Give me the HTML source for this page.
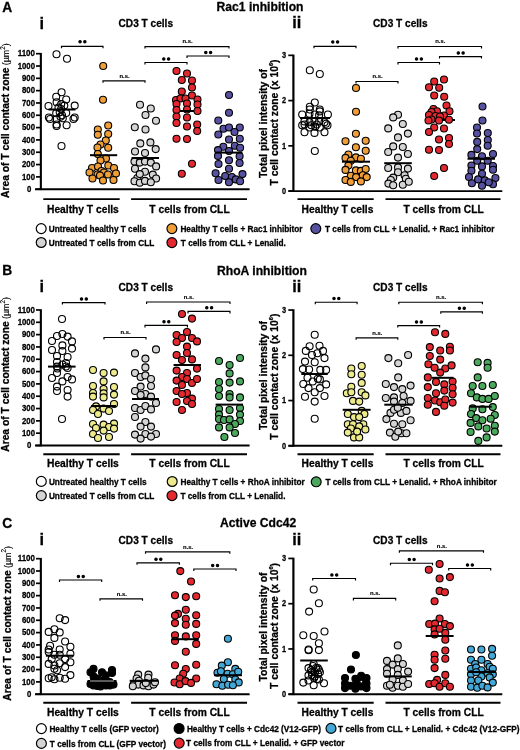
<!DOCTYPE html>
<html><head><meta charset="utf-8"><style>
html,body{margin:0;padding:0;background:#fff;}
svg{display:block;font-family:"Liberation Sans",sans-serif;filter:blur(0.3px);}
svg text{fill:#000;stroke:#000;stroke-width:0.28px;}
line,path{stroke:#000;}
circle{stroke:#000;stroke-width:1.1;}
</style></head><body>
<svg width="520" height="750" viewBox="0 0 520 750">
<rect width="520" height="750" fill="#fff"/>
<text x="2.20" y="11.90" font-size="13.8" text-anchor="start" font-weight="bold" >A</text>
<text x="216.50" y="10.70" font-size="12.15" text-anchor="start" font-weight="bold" >Rac1 inhibition</text>
<text x="39.60" y="28.80" font-size="16.3" text-anchor="start" font-weight="bold" >i</text>
<text x="145.80" y="27.40" font-size="10.1" text-anchor="middle" font-weight="bold" >CD3 T cells</text>
<text x="292.20" y="28.00" font-size="16.3" text-anchor="start" font-weight="bold" >ii</text>
<text x="400.30" y="27.40" font-size="10.1" text-anchor="middle" font-weight="bold" >CD3 T cells</text>
<line x1="40.85" y1="52.88" x2="40.85" y2="190.10" stroke-width="2.1"/>
<line x1="35.00" y1="189.20" x2="249.60" y2="189.20" stroke-width="1.9"/>
<line x1="36.00" y1="189.20" x2="40.00" y2="189.20" stroke-width="1.7"/>
<text x="31.30" y="191.95" font-size="8.5" text-anchor="end" font-weight="bold" textLength="4.33" lengthAdjust="spacingAndGlyphs">0</text>
<line x1="36.00" y1="176.88" x2="40.00" y2="176.88" stroke-width="1.7"/>
<text x="35.00" y="179.63" font-size="8.5" text-anchor="end" font-weight="bold" textLength="12.99" lengthAdjust="spacingAndGlyphs">100</text>
<line x1="36.00" y1="164.56" x2="40.00" y2="164.56" stroke-width="1.7"/>
<text x="35.00" y="167.31" font-size="8.5" text-anchor="end" font-weight="bold" textLength="12.99" lengthAdjust="spacingAndGlyphs">200</text>
<line x1="36.00" y1="152.24" x2="40.00" y2="152.24" stroke-width="1.7"/>
<text x="35.00" y="154.99" font-size="8.5" text-anchor="end" font-weight="bold" textLength="12.99" lengthAdjust="spacingAndGlyphs">300</text>
<line x1="36.00" y1="139.92" x2="40.00" y2="139.92" stroke-width="1.7"/>
<text x="35.00" y="142.67" font-size="8.5" text-anchor="end" font-weight="bold" textLength="12.99" lengthAdjust="spacingAndGlyphs">400</text>
<line x1="36.00" y1="127.60" x2="40.00" y2="127.60" stroke-width="1.7"/>
<text x="35.00" y="130.35" font-size="8.5" text-anchor="end" font-weight="bold" textLength="12.99" lengthAdjust="spacingAndGlyphs">500</text>
<line x1="36.00" y1="115.28" x2="40.00" y2="115.28" stroke-width="1.7"/>
<text x="35.00" y="118.03" font-size="8.5" text-anchor="end" font-weight="bold" textLength="12.99" lengthAdjust="spacingAndGlyphs">600</text>
<line x1="36.00" y1="102.96" x2="40.00" y2="102.96" stroke-width="1.7"/>
<text x="35.00" y="105.71" font-size="8.5" text-anchor="end" font-weight="bold" textLength="12.99" lengthAdjust="spacingAndGlyphs">700</text>
<line x1="36.00" y1="90.64" x2="40.00" y2="90.64" stroke-width="1.7"/>
<text x="35.00" y="93.39" font-size="8.5" text-anchor="end" font-weight="bold" textLength="12.99" lengthAdjust="spacingAndGlyphs">800</text>
<line x1="36.00" y1="78.32" x2="40.00" y2="78.32" stroke-width="1.7"/>
<text x="35.00" y="81.07" font-size="8.5" text-anchor="end" font-weight="bold" textLength="12.99" lengthAdjust="spacingAndGlyphs">900</text>
<line x1="36.00" y1="66.00" x2="40.00" y2="66.00" stroke-width="1.7"/>
<text x="35.00" y="68.75" font-size="8.5" text-anchor="end" font-weight="bold" textLength="17.32" lengthAdjust="spacingAndGlyphs">1000</text>
<line x1="36.00" y1="53.68" x2="40.00" y2="53.68" stroke-width="1.7"/>
<text x="35.00" y="56.43" font-size="8.5" text-anchor="end" font-weight="bold" textLength="17.32" lengthAdjust="spacingAndGlyphs">1100</text>
<line x1="293.40" y1="54.55" x2="293.40" y2="192.00" stroke-width="2.2"/>
<line x1="288.50" y1="191.10" x2="502.30" y2="191.10" stroke-width="1.9"/>
<line x1="288.30" y1="191.10" x2="293.00" y2="191.10" stroke-width="1.7"/>
<text x="286.20" y="193.85" font-size="8.5" text-anchor="end" font-weight="bold" textLength="4.10" lengthAdjust="spacingAndGlyphs">0</text>
<line x1="288.30" y1="145.85" x2="293.00" y2="145.85" stroke-width="1.7"/>
<text x="286.20" y="148.60" font-size="8.5" text-anchor="end" font-weight="bold" textLength="4.10" lengthAdjust="spacingAndGlyphs">1</text>
<line x1="288.30" y1="100.60" x2="293.00" y2="100.60" stroke-width="1.7"/>
<text x="286.20" y="103.35" font-size="8.5" text-anchor="end" font-weight="bold" textLength="4.10" lengthAdjust="spacingAndGlyphs">2</text>
<line x1="288.30" y1="55.35" x2="293.00" y2="55.35" stroke-width="1.7"/>
<text x="286.20" y="58.10" font-size="8.5" text-anchor="end" font-weight="bold" textLength="4.10" lengthAdjust="spacingAndGlyphs">3</text>
<line x1="43.30" y1="199.10" x2="119.70" y2="199.10" stroke-width="1.9"/>
<line x1="131.10" y1="199.10" x2="247.00" y2="199.10" stroke-width="1.9"/>
<text x="82.90" y="212.50" font-size="10.25" text-anchor="middle" font-weight="bold" >Healthy T cells</text>
<text x="189.50" y="212.50" font-size="10.25" text-anchor="middle" font-weight="bold" >T cells from CLL</text>
<line x1="297.50" y1="199.10" x2="373.70" y2="199.10" stroke-width="1.9"/>
<line x1="385.50" y1="199.10" x2="500.50" y2="199.10" stroke-width="1.9"/>
<text x="337.50" y="212.50" font-size="10.25" text-anchor="middle" font-weight="bold" >Healthy T cells</text>
<text x="443.60" y="212.50" font-size="10.25" text-anchor="middle" font-weight="bold" >T cells from CLL</text>
<text transform="translate(9.3,198.00) rotate(-90)" font-size="10.3" font-weight="bold">Area of T cell contact zone</text><text transform="translate(9.3,65.20) rotate(-90)" font-size="8.9" style="stroke-width:0.12px">(µm<tspan dy="-4.3" font-size="6.4">2</tspan><tspan dy="4.3">)</tspan></text>
<text transform="translate(266.5,123.50) rotate(-90)" font-size="10.4" text-anchor="middle" font-weight="bold">Total pixel intensity of</text>
<text transform="translate(278.3,122.50) rotate(-90)" font-size="10.4" text-anchor="middle" font-weight="bold">T cell contact zone (x 10<tspan dy="-5" font-size="5.6">6</tspan><tspan dy="5">)</tspan></text>
<text x="2.20" y="275.00" font-size="13.8" text-anchor="start" font-weight="bold" >B</text>
<text x="217.00" y="274.50" font-size="12.15" text-anchor="start" font-weight="bold" >RhoA inhibition</text>
<text x="39.60" y="291.50" font-size="16.3" text-anchor="start" font-weight="bold" >i</text>
<text x="145.80" y="291.30" font-size="10.1" text-anchor="middle" font-weight="bold" >CD3 T cells</text>
<text x="292.20" y="292.30" font-size="16.3" text-anchor="start" font-weight="bold" >ii</text>
<text x="400.30" y="291.30" font-size="10.1" text-anchor="middle" font-weight="bold" >CD3 T cells</text>
<line x1="40.85" y1="309.18" x2="40.85" y2="446.40" stroke-width="2.1"/>
<line x1="35.00" y1="445.50" x2="249.60" y2="445.50" stroke-width="1.9"/>
<line x1="36.00" y1="445.50" x2="40.00" y2="445.50" stroke-width="1.7"/>
<text x="31.30" y="448.25" font-size="8.5" text-anchor="end" font-weight="bold" textLength="4.33" lengthAdjust="spacingAndGlyphs">0</text>
<line x1="36.00" y1="433.18" x2="40.00" y2="433.18" stroke-width="1.7"/>
<text x="35.00" y="435.93" font-size="8.5" text-anchor="end" font-weight="bold" textLength="12.99" lengthAdjust="spacingAndGlyphs">100</text>
<line x1="36.00" y1="420.86" x2="40.00" y2="420.86" stroke-width="1.7"/>
<text x="35.00" y="423.61" font-size="8.5" text-anchor="end" font-weight="bold" textLength="12.99" lengthAdjust="spacingAndGlyphs">200</text>
<line x1="36.00" y1="408.54" x2="40.00" y2="408.54" stroke-width="1.7"/>
<text x="35.00" y="411.29" font-size="8.5" text-anchor="end" font-weight="bold" textLength="12.99" lengthAdjust="spacingAndGlyphs">300</text>
<line x1="36.00" y1="396.22" x2="40.00" y2="396.22" stroke-width="1.7"/>
<text x="35.00" y="398.97" font-size="8.5" text-anchor="end" font-weight="bold" textLength="12.99" lengthAdjust="spacingAndGlyphs">400</text>
<line x1="36.00" y1="383.90" x2="40.00" y2="383.90" stroke-width="1.7"/>
<text x="35.00" y="386.65" font-size="8.5" text-anchor="end" font-weight="bold" textLength="12.99" lengthAdjust="spacingAndGlyphs">500</text>
<line x1="36.00" y1="371.58" x2="40.00" y2="371.58" stroke-width="1.7"/>
<text x="35.00" y="374.33" font-size="8.5" text-anchor="end" font-weight="bold" textLength="12.99" lengthAdjust="spacingAndGlyphs">600</text>
<line x1="36.00" y1="359.26" x2="40.00" y2="359.26" stroke-width="1.7"/>
<text x="35.00" y="362.01" font-size="8.5" text-anchor="end" font-weight="bold" textLength="12.99" lengthAdjust="spacingAndGlyphs">700</text>
<line x1="36.00" y1="346.94" x2="40.00" y2="346.94" stroke-width="1.7"/>
<text x="35.00" y="349.69" font-size="8.5" text-anchor="end" font-weight="bold" textLength="12.99" lengthAdjust="spacingAndGlyphs">800</text>
<line x1="36.00" y1="334.62" x2="40.00" y2="334.62" stroke-width="1.7"/>
<text x="35.00" y="337.37" font-size="8.5" text-anchor="end" font-weight="bold" textLength="12.99" lengthAdjust="spacingAndGlyphs">900</text>
<line x1="36.00" y1="322.30" x2="40.00" y2="322.30" stroke-width="1.7"/>
<text x="35.00" y="325.05" font-size="8.5" text-anchor="end" font-weight="bold" textLength="17.32" lengthAdjust="spacingAndGlyphs">1000</text>
<line x1="36.00" y1="309.98" x2="40.00" y2="309.98" stroke-width="1.7"/>
<text x="35.00" y="312.73" font-size="8.5" text-anchor="end" font-weight="bold" textLength="17.32" lengthAdjust="spacingAndGlyphs">1100</text>
<line x1="293.40" y1="309.25" x2="293.40" y2="446.70" stroke-width="2.2"/>
<line x1="288.50" y1="445.80" x2="502.30" y2="445.80" stroke-width="1.9"/>
<line x1="288.30" y1="445.80" x2="293.00" y2="445.80" stroke-width="1.7"/>
<text x="286.20" y="448.55" font-size="8.5" text-anchor="end" font-weight="bold" textLength="4.10" lengthAdjust="spacingAndGlyphs">0</text>
<line x1="288.30" y1="400.55" x2="293.00" y2="400.55" stroke-width="1.7"/>
<text x="286.20" y="403.30" font-size="8.5" text-anchor="end" font-weight="bold" textLength="4.10" lengthAdjust="spacingAndGlyphs">1</text>
<line x1="288.30" y1="355.30" x2="293.00" y2="355.30" stroke-width="1.7"/>
<text x="286.20" y="358.05" font-size="8.5" text-anchor="end" font-weight="bold" textLength="4.10" lengthAdjust="spacingAndGlyphs">2</text>
<line x1="288.30" y1="310.05" x2="293.00" y2="310.05" stroke-width="1.7"/>
<text x="286.20" y="312.80" font-size="8.5" text-anchor="end" font-weight="bold" textLength="4.10" lengthAdjust="spacingAndGlyphs">3</text>
<line x1="43.30" y1="454.25" x2="119.70" y2="454.25" stroke-width="1.9"/>
<line x1="131.10" y1="454.25" x2="247.00" y2="454.25" stroke-width="1.9"/>
<text x="82.90" y="467.00" font-size="10.25" text-anchor="middle" font-weight="bold" >Healthy T cells</text>
<text x="189.50" y="467.00" font-size="10.25" text-anchor="middle" font-weight="bold" >T cells from CLL</text>
<line x1="297.50" y1="454.25" x2="373.70" y2="454.25" stroke-width="1.9"/>
<line x1="385.50" y1="454.25" x2="500.50" y2="454.25" stroke-width="1.9"/>
<text x="337.50" y="467.00" font-size="10.25" text-anchor="middle" font-weight="bold" >Healthy T cells</text>
<text x="443.60" y="467.00" font-size="10.25" text-anchor="middle" font-weight="bold" >T cells from CLL</text>
<text transform="translate(9.3,451.80) rotate(-90)" font-size="10.3" font-weight="bold">Area of T cell contact zone</text><text transform="translate(9.3,319.00) rotate(-90)" font-size="8.9" style="stroke-width:0.12px">(µm<tspan dy="-4.3" font-size="6.4">2</tspan><tspan dy="4.3">)</tspan></text>
<text transform="translate(266.5,375.50) rotate(-90)" font-size="10.4" text-anchor="middle" font-weight="bold">Total pixel intensity of</text>
<text transform="translate(278.3,376.70) rotate(-90)" font-size="10.4" text-anchor="middle" font-weight="bold">T cell contact zone (x 10<tspan dy="-5" font-size="5.6">6</tspan><tspan dy="5">)</tspan></text>
<text x="2.20" y="527.50" font-size="13.8" text-anchor="start" font-weight="bold" >C</text>
<text x="220.00" y="526.80" font-size="12.15" text-anchor="start" font-weight="bold" >Active Cdc42</text>
<text x="39.60" y="544.60" font-size="16.3" text-anchor="start" font-weight="bold" >i</text>
<text x="145.80" y="543.70" font-size="10.1" text-anchor="middle" font-weight="bold" >CD3 T cells</text>
<text x="292.20" y="544.60" font-size="16.3" text-anchor="start" font-weight="bold" >ii</text>
<text x="400.30" y="543.70" font-size="10.1" text-anchor="middle" font-weight="bold" >CD3 T cells</text>
<line x1="40.85" y1="557.88" x2="40.85" y2="695.10" stroke-width="2.1"/>
<line x1="35.00" y1="694.20" x2="249.60" y2="694.20" stroke-width="1.9"/>
<line x1="36.00" y1="694.20" x2="40.00" y2="694.20" stroke-width="1.7"/>
<text x="31.30" y="696.95" font-size="8.5" text-anchor="end" font-weight="bold" textLength="4.33" lengthAdjust="spacingAndGlyphs">0</text>
<line x1="36.00" y1="681.88" x2="40.00" y2="681.88" stroke-width="1.7"/>
<text x="35.00" y="684.63" font-size="8.5" text-anchor="end" font-weight="bold" textLength="12.99" lengthAdjust="spacingAndGlyphs">100</text>
<line x1="36.00" y1="669.56" x2="40.00" y2="669.56" stroke-width="1.7"/>
<text x="35.00" y="672.31" font-size="8.5" text-anchor="end" font-weight="bold" textLength="12.99" lengthAdjust="spacingAndGlyphs">200</text>
<line x1="36.00" y1="657.24" x2="40.00" y2="657.24" stroke-width="1.7"/>
<text x="35.00" y="659.99" font-size="8.5" text-anchor="end" font-weight="bold" textLength="12.99" lengthAdjust="spacingAndGlyphs">300</text>
<line x1="36.00" y1="644.92" x2="40.00" y2="644.92" stroke-width="1.7"/>
<text x="35.00" y="647.67" font-size="8.5" text-anchor="end" font-weight="bold" textLength="12.99" lengthAdjust="spacingAndGlyphs">400</text>
<line x1="36.00" y1="632.60" x2="40.00" y2="632.60" stroke-width="1.7"/>
<text x="35.00" y="635.35" font-size="8.5" text-anchor="end" font-weight="bold" textLength="12.99" lengthAdjust="spacingAndGlyphs">500</text>
<line x1="36.00" y1="620.28" x2="40.00" y2="620.28" stroke-width="1.7"/>
<text x="35.00" y="623.03" font-size="8.5" text-anchor="end" font-weight="bold" textLength="12.99" lengthAdjust="spacingAndGlyphs">600</text>
<line x1="36.00" y1="607.96" x2="40.00" y2="607.96" stroke-width="1.7"/>
<text x="35.00" y="610.71" font-size="8.5" text-anchor="end" font-weight="bold" textLength="12.99" lengthAdjust="spacingAndGlyphs">700</text>
<line x1="36.00" y1="595.64" x2="40.00" y2="595.64" stroke-width="1.7"/>
<text x="35.00" y="598.39" font-size="8.5" text-anchor="end" font-weight="bold" textLength="12.99" lengthAdjust="spacingAndGlyphs">800</text>
<line x1="36.00" y1="583.32" x2="40.00" y2="583.32" stroke-width="1.7"/>
<text x="35.00" y="586.07" font-size="8.5" text-anchor="end" font-weight="bold" textLength="12.99" lengthAdjust="spacingAndGlyphs">900</text>
<line x1="36.00" y1="571.00" x2="40.00" y2="571.00" stroke-width="1.7"/>
<text x="35.00" y="573.75" font-size="8.5" text-anchor="end" font-weight="bold" textLength="17.32" lengthAdjust="spacingAndGlyphs">1000</text>
<line x1="36.00" y1="558.68" x2="40.00" y2="558.68" stroke-width="1.7"/>
<text x="35.00" y="561.43" font-size="8.5" text-anchor="end" font-weight="bold" textLength="17.32" lengthAdjust="spacingAndGlyphs">1100</text>
<line x1="293.40" y1="557.65" x2="293.40" y2="695.10" stroke-width="2.2"/>
<line x1="288.50" y1="694.20" x2="502.30" y2="694.20" stroke-width="1.9"/>
<line x1="288.30" y1="694.20" x2="293.00" y2="694.20" stroke-width="1.7"/>
<text x="286.20" y="696.95" font-size="8.5" text-anchor="end" font-weight="bold" textLength="4.10" lengthAdjust="spacingAndGlyphs">0</text>
<line x1="288.30" y1="648.95" x2="293.00" y2="648.95" stroke-width="1.7"/>
<text x="286.20" y="651.70" font-size="8.5" text-anchor="end" font-weight="bold" textLength="4.10" lengthAdjust="spacingAndGlyphs">1</text>
<line x1="288.30" y1="603.70" x2="293.00" y2="603.70" stroke-width="1.7"/>
<text x="286.20" y="606.45" font-size="8.5" text-anchor="end" font-weight="bold" textLength="4.10" lengthAdjust="spacingAndGlyphs">2</text>
<line x1="288.30" y1="558.45" x2="293.00" y2="558.45" stroke-width="1.7"/>
<text x="286.20" y="561.20" font-size="8.5" text-anchor="end" font-weight="bold" textLength="4.10" lengthAdjust="spacingAndGlyphs">3</text>
<line x1="43.30" y1="702.80" x2="119.70" y2="702.80" stroke-width="1.9"/>
<line x1="131.10" y1="702.80" x2="247.00" y2="702.80" stroke-width="1.9"/>
<text x="82.90" y="715.60" font-size="10.25" text-anchor="middle" font-weight="bold" >Healthy T cells</text>
<text x="189.50" y="715.60" font-size="10.25" text-anchor="middle" font-weight="bold" >T cells from CLL</text>
<line x1="297.50" y1="702.80" x2="373.70" y2="702.80" stroke-width="1.9"/>
<line x1="385.50" y1="702.80" x2="500.50" y2="702.80" stroke-width="1.9"/>
<text x="337.50" y="715.60" font-size="10.25" text-anchor="middle" font-weight="bold" >Healthy T cells</text>
<text x="443.60" y="715.60" font-size="10.25" text-anchor="middle" font-weight="bold" >T cells from CLL</text>
<text transform="translate(10.5,700.80) rotate(-90)" font-size="10.3" font-weight="bold">Area of T cell contact zone</text><text transform="translate(10.5,568.00) rotate(-90)" font-size="8.9" style="stroke-width:0.12px">(µm<tspan dy="-4.3" font-size="6.4">2</tspan><tspan dy="4.3">)</tspan></text>
<text transform="translate(266.5,627.00) rotate(-90)" font-size="10.4" text-anchor="middle" font-weight="bold">Total pixel intensity of</text>
<text transform="translate(278.3,626.00) rotate(-90)" font-size="10.4" text-anchor="middle" font-weight="bold">T cell contact zone (x 10<tspan dy="-5" font-size="5.6">6</tspan><tspan dy="5">)</tspan></text>
<line x1="425.00" y1="120.00" x2="455.00" y2="120.00" stroke-width="2"/>
<path d="M61.50,48.30 L61.50,46.30 L103.00,46.30 L103.00,48.30" fill="none" stroke-width="1.15"/>
<circle cx="80.05" cy="41.80" r="1.2" fill="#000" stroke="none"/><circle cx="84.85" cy="41.80" r="1.2" fill="#000" stroke="none"/>
<path d="M103.00,82.80 L103.00,80.80 L145.00,80.80 L145.00,82.80" fill="none" stroke-width="1.15"/>
<text x="124.50" y="77.60" font-size="5.9" text-anchor="middle" font-weight="bold" style="stroke-width:0.15px">n.s.</text>
<path d="M145.00,64.50 L145.00,62.50 L187.00,62.50 L187.00,64.50" fill="none" stroke-width="1.15"/>
<circle cx="163.80" cy="58.90" r="1.2" fill="#000" stroke="none"/><circle cx="168.60" cy="58.90" r="1.2" fill="#000" stroke="none"/>
<path d="M187.00,58.00 L187.00,56.00 L229.00,56.00 L229.00,58.00" fill="none" stroke-width="1.15"/>
<circle cx="205.80" cy="52.40" r="1.2" fill="#000" stroke="none"/><circle cx="210.60" cy="52.40" r="1.2" fill="#000" stroke="none"/>
<path d="M145.00,48.60 L145.00,46.60 L229.00,46.60 L229.00,48.60" fill="none" stroke-width="1.15"/>
<text x="187.50" y="43.40" font-size="5.9" text-anchor="middle" font-weight="bold" style="stroke-width:0.15px">n.s.</text>
<path d="M314.00,48.30 L314.00,46.30 L356.00,46.30 L356.00,48.30" fill="none" stroke-width="1.15"/>
<circle cx="332.80" cy="41.90" r="1.2" fill="#000" stroke="none"/><circle cx="337.60" cy="41.90" r="1.2" fill="#000" stroke="none"/>
<path d="M356.00,83.50 L356.00,81.50 L398.00,81.50 L398.00,83.50" fill="none" stroke-width="1.15"/>
<text x="377.50" y="78.30" font-size="5.9" text-anchor="middle" font-weight="bold" style="stroke-width:0.15px">n.s.</text>
<path d="M398.00,64.50 L398.00,62.50 L439.50,62.50 L439.50,64.50" fill="none" stroke-width="1.15"/>
<circle cx="416.55" cy="58.90" r="1.2" fill="#000" stroke="none"/><circle cx="421.35" cy="58.90" r="1.2" fill="#000" stroke="none"/>
<path d="M439.50,58.60 L439.50,56.60 L481.50,56.60 L481.50,58.60" fill="none" stroke-width="1.15"/>
<circle cx="458.30" cy="53.00" r="1.2" fill="#000" stroke="none"/><circle cx="463.10" cy="53.00" r="1.2" fill="#000" stroke="none"/>
<path d="M398.00,48.50 L398.00,46.50 L481.50,46.50 L481.50,48.50" fill="none" stroke-width="1.15"/>
<text x="440.25" y="43.30" font-size="5.9" text-anchor="middle" font-weight="bold" style="stroke-width:0.15px">n.s.</text>
<circle cx="41.2" cy="228.6" r="4.95" fill="#ffffff" style="stroke-width:1.2"/>
<text x="48.80" y="231.90" font-size="8.25" text-anchor="start" font-weight="bold" >Untreated healthy T cells</text>
<circle cx="41.2" cy="242.5" r="4.95" fill="#D4D4D4" style="stroke-width:1.2"/>
<text x="48.80" y="245.80" font-size="8.25" text-anchor="start" font-weight="bold" >Untreated T cells from CLL</text>
<circle cx="171.9" cy="228.6" r="4.95" fill="#EF9E38" style="stroke-width:1.2"/>
<text x="180.40" y="231.90" font-size="8.25" text-anchor="start" font-weight="bold" >Healthy T cells + Rac1 inhibitor</text>
<circle cx="171.9" cy="242.6" r="4.95" fill="#E4282F" style="stroke-width:1.2"/>
<text x="180.80" y="245.90" font-size="8.25" text-anchor="start" font-weight="bold" >T cells from CLL + Lenalid.</text>
<circle cx="315.8" cy="228.6" r="4.95" fill="#5751A2" style="stroke-width:1.2"/>
<text x="325.00" y="231.90" font-size="8.25" text-anchor="start" font-weight="bold" >T cells from CLL + Lenalid. + Rac1 inhibitor</text>
<circle cx="56.5" cy="54.2" r="3.5" fill="none"/>
<circle cx="67.0" cy="58.8" r="3.5" fill="none"/>
<circle cx="61.6" cy="92.2" r="3.5" fill="none"/>
<circle cx="56.2" cy="96.8" r="3.5" fill="none"/>
<circle cx="66.2" cy="99.5" r="3.5" fill="none"/>
<circle cx="56.6" cy="102.2" r="3.5" fill="none"/>
<circle cx="61.2" cy="104.1" r="3.5" fill="none"/>
<circle cx="48.5" cy="106.0" r="3.5" fill="none"/>
<circle cx="74.7" cy="105.6" r="3.5" fill="none"/>
<circle cx="64.3" cy="105.6" r="3.5" fill="none"/>
<circle cx="58.5" cy="107.5" r="3.5" fill="none"/>
<circle cx="61.2" cy="109.0" r="3.5" fill="none"/>
<circle cx="56.2" cy="113.3" r="3.5" fill="none"/>
<circle cx="66.2" cy="113.0" r="3.5" fill="none"/>
<circle cx="59.7" cy="112.2" r="3.5" fill="none"/>
<circle cx="48.9" cy="117.5" r="3.5" fill="none"/>
<circle cx="50.1" cy="119.0" r="3.5" fill="none"/>
<circle cx="74.7" cy="117.5" r="3.5" fill="none"/>
<circle cx="73.5" cy="119.0" r="3.5" fill="none"/>
<circle cx="56.6" cy="119.0" r="3.5" fill="none"/>
<circle cx="62.8" cy="118.3" r="3.5" fill="none"/>
<circle cx="60.5" cy="116.8" r="3.5" fill="none"/>
<circle cx="56.6" cy="124.5" r="3.5" fill="none"/>
<circle cx="56.6" cy="126.0" r="3.5" fill="none"/>
<circle cx="66.6" cy="125.2" r="3.5" fill="none"/>
<circle cx="62.0" cy="115.2" r="3.5" fill="none"/>
<circle cx="61.5" cy="146.0" r="3.5" fill="none"/>
<line x1="48.50" y1="109.50" x2="75.50" y2="109.50" stroke-width="2"/>
<circle cx="103.2" cy="66.0" r="3.5" fill="#EF9E38"/>
<circle cx="103.0" cy="99.8" r="3.5" fill="#EF9E38"/>
<circle cx="108.2" cy="125.5" r="3.5" fill="#EF9E38"/>
<circle cx="97.8" cy="129.5" r="3.5" fill="#EF9E38"/>
<circle cx="97.8" cy="134.8" r="3.5" fill="#EF9E38"/>
<circle cx="108.2" cy="134.0" r="3.5" fill="#EF9E38"/>
<circle cx="105.8" cy="140.5" r="3.5" fill="#EF9E38"/>
<circle cx="100.5" cy="144.5" r="3.5" fill="#EF9E38"/>
<circle cx="97.5" cy="147.5" r="3.5" fill="#EF9E38"/>
<circle cx="108.2" cy="147.8" r="3.5" fill="#EF9E38"/>
<circle cx="97.8" cy="154.0" r="3.5" fill="#EF9E38"/>
<circle cx="106.0" cy="158.5" r="3.5" fill="#EF9E38"/>
<circle cx="100.5" cy="160.5" r="3.5" fill="#EF9E38"/>
<circle cx="92.0" cy="168.0" r="3.5" fill="#EF9E38"/>
<circle cx="98.0" cy="166.5" r="3.5" fill="#EF9E38"/>
<circle cx="108.3" cy="165.5" r="3.5" fill="#EF9E38"/>
<circle cx="114.0" cy="168.0" r="3.5" fill="#EF9E38"/>
<circle cx="89.5" cy="172.5" r="3.5" fill="#EF9E38"/>
<circle cx="101.5" cy="171.0" r="3.5" fill="#EF9E38"/>
<circle cx="104.0" cy="172.5" r="3.5" fill="#EF9E38"/>
<circle cx="97.5" cy="174.5" r="3.5" fill="#EF9E38"/>
<circle cx="100.0" cy="175.5" r="3.5" fill="#EF9E38"/>
<circle cx="108.0" cy="174.5" r="3.5" fill="#EF9E38"/>
<circle cx="116.0" cy="173.5" r="3.5" fill="#EF9E38"/>
<circle cx="92.5" cy="178.5" r="3.5" fill="#EF9E38"/>
<circle cx="103.0" cy="180.5" r="3.5" fill="#EF9E38"/>
<circle cx="113.5" cy="180.0" r="3.5" fill="#EF9E38"/>
<line x1="90.00" y1="155.20" x2="117.20" y2="155.20" stroke-width="2"/>
<circle cx="140.0" cy="104.8" r="3.5" fill="#D4D4D4"/>
<circle cx="150.8" cy="108.5" r="3.5" fill="#D4D4D4"/>
<circle cx="145.5" cy="115.0" r="3.5" fill="#D4D4D4"/>
<circle cx="156.0" cy="120.8" r="3.5" fill="#D4D4D4"/>
<circle cx="134.8" cy="127.2" r="3.5" fill="#D4D4D4"/>
<circle cx="145.5" cy="129.5" r="3.5" fill="#D4D4D4"/>
<circle cx="140.3" cy="143.4" r="3.5" fill="#D4D4D4"/>
<circle cx="150.4" cy="142.4" r="3.5" fill="#D4D4D4"/>
<circle cx="155.7" cy="149.1" r="3.5" fill="#D4D4D4"/>
<circle cx="135.0" cy="151.5" r="3.5" fill="#D4D4D4"/>
<circle cx="145.0" cy="153.0" r="3.5" fill="#D4D4D4"/>
<circle cx="134.5" cy="161.6" r="3.5" fill="#D4D4D4"/>
<circle cx="139.8" cy="162.6" r="3.5" fill="#D4D4D4"/>
<circle cx="145.0" cy="161.6" r="3.5" fill="#D4D4D4"/>
<circle cx="150.8" cy="162.6" r="3.5" fill="#D4D4D4"/>
<circle cx="156.1" cy="166.4" r="3.5" fill="#D4D4D4"/>
<circle cx="135.0" cy="168.8" r="3.5" fill="#D4D4D4"/>
<circle cx="145.0" cy="171.7" r="3.5" fill="#D4D4D4"/>
<circle cx="137.4" cy="178.0" r="3.5" fill="#D4D4D4"/>
<circle cx="139.8" cy="174.1" r="3.5" fill="#D4D4D4"/>
<circle cx="152.8" cy="174.6" r="3.5" fill="#D4D4D4"/>
<circle cx="156.1" cy="178.5" r="3.5" fill="#D4D4D4"/>
<circle cx="134.5" cy="181.3" r="3.5" fill="#D4D4D4"/>
<circle cx="139.8" cy="182.8" r="3.5" fill="#D4D4D4"/>
<circle cx="145.0" cy="180.9" r="3.5" fill="#D4D4D4"/>
<circle cx="150.8" cy="182.3" r="3.5" fill="#D4D4D4"/>
<line x1="131.60" y1="158.00" x2="159.00" y2="158.00" stroke-width="2"/>
<circle cx="176.5" cy="71.0" r="3.5" fill="#E4282F"/>
<circle cx="187.0" cy="73.5" r="3.5" fill="#E4282F"/>
<circle cx="181.8" cy="80.0" r="3.5" fill="#E4282F"/>
<circle cx="192.0" cy="80.5" r="3.5" fill="#E4282F"/>
<circle cx="192.0" cy="87.5" r="3.5" fill="#E4282F"/>
<circle cx="181.8" cy="91.5" r="3.5" fill="#E4282F"/>
<circle cx="192.0" cy="95.5" r="3.5" fill="#E4282F"/>
<circle cx="176.0" cy="100.0" r="3.5" fill="#E4282F"/>
<circle cx="180.5" cy="98.5" r="3.5" fill="#E4282F"/>
<circle cx="185.5" cy="98.5" r="3.5" fill="#E4282F"/>
<circle cx="197.5" cy="99.5" r="3.5" fill="#E4282F"/>
<circle cx="176.5" cy="104.0" r="3.5" fill="#E4282F"/>
<circle cx="187.0" cy="103.5" r="3.5" fill="#E4282F"/>
<circle cx="197.5" cy="104.5" r="3.5" fill="#E4282F"/>
<circle cx="176.5" cy="110.0" r="3.5" fill="#E4282F"/>
<circle cx="187.0" cy="109.5" r="3.5" fill="#E4282F"/>
<circle cx="197.5" cy="111.0" r="3.5" fill="#E4282F"/>
<circle cx="176.5" cy="116.5" r="3.5" fill="#E4282F"/>
<circle cx="187.0" cy="117.5" r="3.5" fill="#E4282F"/>
<circle cx="176.5" cy="123.0" r="3.5" fill="#E4282F"/>
<circle cx="187.0" cy="126.5" r="3.5" fill="#E4282F"/>
<circle cx="197.2" cy="124.5" r="3.5" fill="#E4282F"/>
<circle cx="197.2" cy="131.0" r="3.5" fill="#E4282F"/>
<circle cx="176.5" cy="138.8" r="3.5" fill="#E4282F"/>
<circle cx="187.0" cy="139.0" r="3.5" fill="#E4282F"/>
<circle cx="192.0" cy="163.8" r="3.5" fill="#E4282F"/>
<circle cx="181.8" cy="173.7" r="3.5" fill="#E4282F"/>
<line x1="180.00" y1="111.00" x2="194.00" y2="111.00" stroke-width="2"/>
<circle cx="229.0" cy="95.0" r="3.5" fill="#5751A2"/>
<circle cx="229.0" cy="112.8" r="3.5" fill="#5751A2"/>
<circle cx="218.3" cy="120.5" r="3.5" fill="#5751A2"/>
<circle cx="223.5" cy="128.7" r="3.5" fill="#5751A2"/>
<circle cx="229.0" cy="127.5" r="3.5" fill="#5751A2"/>
<circle cx="239.8" cy="127.5" r="3.5" fill="#5751A2"/>
<circle cx="234.5" cy="132.0" r="3.5" fill="#5751A2"/>
<circle cx="218.3" cy="134.5" r="3.5" fill="#5751A2"/>
<circle cx="229.0" cy="139.5" r="3.5" fill="#5751A2"/>
<circle cx="239.8" cy="138.8" r="3.5" fill="#5751A2"/>
<circle cx="223.3" cy="146.7" r="3.5" fill="#5751A2"/>
<circle cx="234.8" cy="145.8" r="3.5" fill="#5751A2"/>
<circle cx="240.1" cy="147.7" r="3.5" fill="#5751A2"/>
<circle cx="218.0" cy="150.1" r="3.5" fill="#5751A2"/>
<circle cx="229.0" cy="151.0" r="3.5" fill="#5751A2"/>
<circle cx="218.0" cy="155.9" r="3.5" fill="#5751A2"/>
<circle cx="239.6" cy="156.3" r="3.5" fill="#5751A2"/>
<circle cx="229.0" cy="160.2" r="3.5" fill="#5751A2"/>
<circle cx="218.5" cy="164.0" r="3.5" fill="#5751A2"/>
<circle cx="239.6" cy="163.0" r="3.5" fill="#5751A2"/>
<circle cx="229.0" cy="168.8" r="3.5" fill="#5751A2"/>
<circle cx="215.6" cy="173.2" r="3.5" fill="#5751A2"/>
<circle cx="242.5" cy="174.1" r="3.5" fill="#5751A2"/>
<circle cx="225.2" cy="176.0" r="3.5" fill="#5751A2"/>
<circle cx="231.9" cy="177.0" r="3.5" fill="#5751A2"/>
<circle cx="218.5" cy="180.0" r="3.5" fill="#5751A2"/>
<circle cx="229.0" cy="182.3" r="3.5" fill="#5751A2"/>
<circle cx="235.8" cy="179.4" r="3.5" fill="#5751A2"/>
<circle cx="240.1" cy="181.3" r="3.5" fill="#5751A2"/>
<line x1="215.00" y1="152.60" x2="242.50" y2="152.60" stroke-width="2"/>
<circle cx="309.8" cy="70.3" r="3.5" fill="none"/>
<circle cx="319.8" cy="74.0" r="3.5" fill="none"/>
<circle cx="314.8" cy="102.5" r="3.5" fill="none"/>
<circle cx="309.8" cy="106.8" r="3.5" fill="none"/>
<circle cx="309.8" cy="109.5" r="3.5" fill="none"/>
<circle cx="319.8" cy="109.5" r="3.5" fill="none"/>
<circle cx="319.8" cy="111.4" r="3.5" fill="none"/>
<circle cx="302.2" cy="114.5" r="3.5" fill="none"/>
<circle cx="327.9" cy="114.5" r="3.5" fill="none"/>
<circle cx="309.5" cy="113.7" r="3.5" fill="none"/>
<circle cx="314.8" cy="114.5" r="3.5" fill="none"/>
<circle cx="319.1" cy="115.2" r="3.5" fill="none"/>
<circle cx="304.5" cy="121.4" r="3.5" fill="none"/>
<circle cx="302.2" cy="125.2" r="3.5" fill="none"/>
<circle cx="304.5" cy="124.5" r="3.5" fill="none"/>
<circle cx="309.5" cy="122.2" r="3.5" fill="none"/>
<circle cx="314.5" cy="121.4" r="3.5" fill="none"/>
<circle cx="319.1" cy="121.4" r="3.5" fill="none"/>
<circle cx="324.5" cy="122.2" r="3.5" fill="none"/>
<circle cx="327.5" cy="125.2" r="3.5" fill="none"/>
<circle cx="326.0" cy="123.7" r="3.5" fill="none"/>
<circle cx="309.5" cy="127.5" r="3.5" fill="none"/>
<circle cx="315.2" cy="126.8" r="3.5" fill="none"/>
<circle cx="319.8" cy="127.5" r="3.5" fill="none"/>
<circle cx="304.5" cy="132.2" r="3.5" fill="none"/>
<circle cx="314.5" cy="132.9" r="3.5" fill="none"/>
<circle cx="324.5" cy="132.2" r="3.5" fill="none"/>
<circle cx="311.4" cy="125.2" r="3.5" fill="none"/>
<circle cx="316.8" cy="124.5" r="3.5" fill="none"/>
<circle cx="314.8" cy="151.0" r="3.5" fill="none"/>
<line x1="300.00" y1="118.00" x2="330.00" y2="118.00" stroke-width="2"/>
<circle cx="356.0" cy="88.0" r="3.5" fill="#EF9E38"/>
<circle cx="356.0" cy="111.8" r="3.5" fill="#EF9E38"/>
<circle cx="355.9" cy="133.8" r="3.5" fill="#EF9E38"/>
<circle cx="345.5" cy="141.3" r="3.5" fill="#EF9E38"/>
<circle cx="365.7" cy="140.8" r="3.5" fill="#EF9E38"/>
<circle cx="355.9" cy="147.3" r="3.5" fill="#EF9E38"/>
<circle cx="365.7" cy="150.7" r="3.5" fill="#EF9E38"/>
<circle cx="348.4" cy="154.5" r="3.5" fill="#EF9E38"/>
<circle cx="345.5" cy="157.9" r="3.5" fill="#EF9E38"/>
<circle cx="355.9" cy="157.4" r="3.5" fill="#EF9E38"/>
<circle cx="360.9" cy="158.8" r="3.5" fill="#EF9E38"/>
<circle cx="350.8" cy="160.8" r="3.5" fill="#EF9E38"/>
<circle cx="348.4" cy="165.6" r="3.5" fill="#EF9E38"/>
<circle cx="345.5" cy="169.9" r="3.5" fill="#EF9E38"/>
<circle cx="355.9" cy="170.4" r="3.5" fill="#EF9E38"/>
<circle cx="360.9" cy="170.9" r="3.5" fill="#EF9E38"/>
<circle cx="365.7" cy="169.0" r="3.5" fill="#EF9E38"/>
<circle cx="350.8" cy="175.7" r="3.5" fill="#EF9E38"/>
<circle cx="356.1" cy="177.1" r="3.5" fill="#EF9E38"/>
<circle cx="362.8" cy="175.2" r="3.5" fill="#EF9E38"/>
<circle cx="366.7" cy="177.1" r="3.5" fill="#EF9E38"/>
<circle cx="345.5" cy="180.0" r="3.5" fill="#EF9E38"/>
<circle cx="350.8" cy="181.9" r="3.5" fill="#EF9E38"/>
<circle cx="360.9" cy="181.4" r="3.5" fill="#EF9E38"/>
<line x1="342.00" y1="161.70" x2="370.00" y2="161.70" stroke-width="2"/>
<circle cx="398.0" cy="114.8" r="3.5" fill="#D4D4D4"/>
<circle cx="393.2" cy="117.4" r="3.5" fill="#D4D4D4"/>
<circle cx="402.8" cy="124.0" r="3.5" fill="#D4D4D4"/>
<circle cx="388.2" cy="128.4" r="3.5" fill="#D4D4D4"/>
<circle cx="407.9" cy="133.6" r="3.5" fill="#D4D4D4"/>
<circle cx="398.0" cy="137.4" r="3.5" fill="#D4D4D4"/>
<circle cx="393.2" cy="146.4" r="3.5" fill="#D4D4D4"/>
<circle cx="402.8" cy="147.0" r="3.5" fill="#D4D4D4"/>
<circle cx="388.2" cy="152.0" r="3.5" fill="#D4D4D4"/>
<circle cx="407.9" cy="154.0" r="3.5" fill="#D4D4D4"/>
<circle cx="398.0" cy="157.6" r="3.5" fill="#D4D4D4"/>
<circle cx="388.2" cy="168.0" r="3.5" fill="#D4D4D4"/>
<circle cx="398.0" cy="167.4" r="3.5" fill="#D4D4D4"/>
<circle cx="407.9" cy="168.6" r="3.5" fill="#D4D4D4"/>
<circle cx="398.0" cy="172.2" r="3.5" fill="#D4D4D4"/>
<circle cx="393.2" cy="177.6" r="3.5" fill="#D4D4D4"/>
<circle cx="404.6" cy="175.2" r="3.5" fill="#D4D4D4"/>
<circle cx="405.8" cy="178.8" r="3.5" fill="#D4D4D4"/>
<circle cx="390.8" cy="180.0" r="3.5" fill="#D4D4D4"/>
<circle cx="388.4" cy="183.6" r="3.5" fill="#D4D4D4"/>
<circle cx="393.2" cy="185.2" r="3.5" fill="#D4D4D4"/>
<circle cx="402.8" cy="184.8" r="3.5" fill="#D4D4D4"/>
<circle cx="408.8" cy="181.8" r="3.5" fill="#D4D4D4"/>
<line x1="384.20" y1="163.20" x2="411.80" y2="163.20" stroke-width="2"/>
<circle cx="444.0" cy="79.5" r="3.5" fill="#E4282F"/>
<circle cx="434.2" cy="81.5" r="3.5" fill="#E4282F"/>
<circle cx="429.0" cy="87.2" r="3.5" fill="#E4282F"/>
<circle cx="439.2" cy="87.8" r="3.5" fill="#E4282F"/>
<circle cx="434.2" cy="95.5" r="3.5" fill="#E4282F"/>
<circle cx="444.2" cy="96.8" r="3.5" fill="#E4282F"/>
<circle cx="446.5" cy="105.5" r="3.5" fill="#E4282F"/>
<circle cx="433.5" cy="109.0" r="3.5" fill="#E4282F"/>
<circle cx="437.0" cy="111.2" r="3.5" fill="#E4282F"/>
<circle cx="449.5" cy="111.2" r="3.5" fill="#E4282F"/>
<circle cx="431.5" cy="112.0" r="3.5" fill="#E4282F"/>
<circle cx="429.0" cy="115.0" r="3.5" fill="#E4282F"/>
<circle cx="435.5" cy="116.0" r="3.5" fill="#E4282F"/>
<circle cx="444.0" cy="115.5" r="3.5" fill="#E4282F"/>
<circle cx="440.0" cy="116.5" r="3.5" fill="#E4282F"/>
<circle cx="431.5" cy="119.5" r="3.5" fill="#E4282F"/>
<circle cx="428.5" cy="120.5" r="3.5" fill="#E4282F"/>
<circle cx="439.0" cy="120.5" r="3.5" fill="#E4282F"/>
<circle cx="449.0" cy="119.8" r="3.5" fill="#E4282F"/>
<circle cx="434.2" cy="127.5" r="3.5" fill="#E4282F"/>
<circle cx="444.0" cy="128.5" r="3.5" fill="#E4282F"/>
<circle cx="429.0" cy="132.0" r="3.5" fill="#E4282F"/>
<circle cx="439.0" cy="139.5" r="3.5" fill="#E4282F"/>
<circle cx="449.0" cy="138.0" r="3.5" fill="#E4282F"/>
<circle cx="449.0" cy="144.0" r="3.5" fill="#E4282F"/>
<circle cx="429.0" cy="149.8" r="3.5" fill="#E4282F"/>
<circle cx="439.0" cy="150.0" r="3.5" fill="#E4282F"/>
<circle cx="444.0" cy="168.0" r="3.5" fill="#E4282F"/>
<circle cx="434.2" cy="176.0" r="3.5" fill="#E4282F"/>
<circle cx="482.5" cy="106.5" r="3.5" fill="#5751A2"/>
<circle cx="482.5" cy="120.5" r="3.5" fill="#5751A2"/>
<circle cx="477.0" cy="127.5" r="3.5" fill="#5751A2"/>
<circle cx="477.0" cy="133.5" r="3.5" fill="#5751A2"/>
<circle cx="487.8" cy="133.0" r="3.5" fill="#5751A2"/>
<circle cx="487.8" cy="140.0" r="3.5" fill="#5751A2"/>
<circle cx="477.2" cy="141.9" r="3.5" fill="#5751A2"/>
<circle cx="487.7" cy="145.8" r="3.5" fill="#5751A2"/>
<circle cx="477.2" cy="149.1" r="3.5" fill="#5751A2"/>
<circle cx="471.4" cy="154.9" r="3.5" fill="#5751A2"/>
<circle cx="482.0" cy="156.3" r="3.5" fill="#5751A2"/>
<circle cx="493.0" cy="154.0" r="3.5" fill="#5751A2"/>
<circle cx="477.2" cy="160.7" r="3.5" fill="#5751A2"/>
<circle cx="487.7" cy="160.7" r="3.5" fill="#5751A2"/>
<circle cx="471.4" cy="165.5" r="3.5" fill="#5751A2"/>
<circle cx="482.0" cy="166.4" r="3.5" fill="#5751A2"/>
<circle cx="493.0" cy="166.0" r="3.5" fill="#5751A2"/>
<circle cx="471.4" cy="170.8" r="3.5" fill="#5751A2"/>
<circle cx="493.0" cy="169.8" r="3.5" fill="#5751A2"/>
<circle cx="482.0" cy="173.7" r="3.5" fill="#5751A2"/>
<circle cx="469.0" cy="177.0" r="3.5" fill="#5751A2"/>
<circle cx="495.4" cy="178.0" r="3.5" fill="#5751A2"/>
<circle cx="478.1" cy="179.4" r="3.5" fill="#5751A2"/>
<circle cx="484.8" cy="180.4" r="3.5" fill="#5751A2"/>
<circle cx="471.9" cy="183.3" r="3.5" fill="#5751A2"/>
<circle cx="482.0" cy="185.7" r="3.5" fill="#5751A2"/>
<circle cx="493.0" cy="184.2" r="3.5" fill="#5751A2"/>
<circle cx="488.7" cy="182.3" r="3.5" fill="#5751A2"/>
<line x1="467.50" y1="158.75" x2="495.00" y2="158.75" stroke-width="2"/>
<path d="M62.40,304.60 L62.40,302.60 L105.00,302.60 L105.00,304.60" fill="none" stroke-width="1.15"/>
<circle cx="81.50" cy="299.00" r="1.2" fill="#000" stroke="none"/><circle cx="86.30" cy="299.00" r="1.2" fill="#000" stroke="none"/>
<path d="M104.00,339.50 L104.00,337.50 L146.00,337.50 L146.00,339.50" fill="none" stroke-width="1.15"/>
<text x="125.50" y="334.30" font-size="5.9" text-anchor="middle" font-weight="bold" style="stroke-width:0.15px">n.s.</text>
<path d="M145.00,327.40 L145.00,325.40 L187.40,325.40 L187.40,327.40" fill="none" stroke-width="1.15"/>
<circle cx="164.00" cy="321.80" r="1.2" fill="#000" stroke="none"/><circle cx="168.80" cy="321.80" r="1.2" fill="#000" stroke="none"/>
<path d="M188.00,313.40 L188.00,311.40 L230.00,311.40 L230.00,313.40" fill="none" stroke-width="1.15"/>
<circle cx="206.80" cy="307.80" r="1.2" fill="#000" stroke="none"/><circle cx="211.60" cy="307.80" r="1.2" fill="#000" stroke="none"/>
<path d="M146.60,304.00 L146.60,302.00 L230.00,302.00 L230.00,304.00" fill="none" stroke-width="1.15"/>
<text x="188.80" y="298.80" font-size="5.9" text-anchor="middle" font-weight="bold" style="stroke-width:0.15px">n.s.</text>
<path d="M315.30,304.20 L315.30,302.20 L357.10,302.20 L357.10,304.20" fill="none" stroke-width="1.15"/>
<circle cx="334.00" cy="298.60" r="1.2" fill="#000" stroke="none"/><circle cx="338.80" cy="298.60" r="1.2" fill="#000" stroke="none"/>
<path d="M356.10,339.80 L356.10,337.80 L397.80,337.80 L397.80,339.80" fill="none" stroke-width="1.15"/>
<text x="377.45" y="334.60" font-size="5.9" text-anchor="middle" font-weight="bold" style="stroke-width:0.15px">n.s.</text>
<path d="M397.80,327.60 L397.80,325.60 L439.60,325.60 L439.60,327.60" fill="none" stroke-width="1.15"/>
<circle cx="416.50" cy="322.00" r="1.2" fill="#000" stroke="none"/><circle cx="421.30" cy="322.00" r="1.2" fill="#000" stroke="none"/>
<path d="M440.80,313.80 L440.80,311.80 L482.40,311.80 L482.40,313.80" fill="none" stroke-width="1.15"/>
<circle cx="459.40" cy="308.20" r="1.2" fill="#000" stroke="none"/><circle cx="464.20" cy="308.20" r="1.2" fill="#000" stroke="none"/>
<path d="M398.80,304.20 L398.80,302.20 L482.40,302.20 L482.40,304.20" fill="none" stroke-width="1.15"/>
<text x="441.10" y="299.00" font-size="5.9" text-anchor="middle" font-weight="bold" style="stroke-width:0.15px">n.s.</text>
<circle cx="41.3" cy="481.4" r="4.95" fill="#ffffff" style="stroke-width:1.2"/>
<text x="48.90" y="484.70" font-size="8.25" text-anchor="start" font-weight="bold" >Untreated healthy T cells</text>
<circle cx="41.3" cy="495.6" r="4.95" fill="#D4D4D4" style="stroke-width:1.2"/>
<text x="48.90" y="498.90" font-size="8.25" text-anchor="start" font-weight="bold" >Untreated T cells from CLL</text>
<circle cx="172.2" cy="481.5" r="4.95" fill="#ECEA8A" style="stroke-width:1.2"/>
<text x="180.50" y="484.80" font-size="8.25" text-anchor="start" font-weight="bold" >Healthy T cells + RhoA inhibitor</text>
<circle cx="172.0" cy="495.7" r="4.95" fill="#E4282F" style="stroke-width:1.2"/>
<text x="180.40" y="499.00" font-size="8.25" text-anchor="start" font-weight="bold" >T cells from CLL + Lenalid.</text>
<circle cx="316.2" cy="481.8" r="4.95" fill="#4BA95E" style="stroke-width:1.2"/>
<text x="325.40" y="485.10" font-size="8.25" text-anchor="start" font-weight="bold" >T cells from CLL + Lenalid. + RhoA inhibitor</text>
<circle cx="62.0" cy="319.0" r="3.5" fill="none"/>
<circle cx="57.0" cy="336.0" r="3.5" fill="none"/>
<circle cx="62.4" cy="334.0" r="3.5" fill="none"/>
<circle cx="67.6" cy="336.6" r="3.5" fill="none"/>
<circle cx="52.0" cy="341.0" r="3.5" fill="none"/>
<circle cx="72.0" cy="341.4" r="3.5" fill="none"/>
<circle cx="62.4" cy="345.4" r="3.5" fill="none"/>
<circle cx="52.0" cy="350.0" r="3.5" fill="none"/>
<circle cx="62.4" cy="351.0" r="3.5" fill="none"/>
<circle cx="72.0" cy="348.6" r="3.5" fill="none"/>
<circle cx="57.0" cy="356.0" r="3.5" fill="none"/>
<circle cx="67.6" cy="357.0" r="3.5" fill="none"/>
<circle cx="57.0" cy="362.0" r="3.5" fill="none"/>
<circle cx="66.0" cy="363.0" r="3.5" fill="none"/>
<circle cx="57.0" cy="366.6" r="3.5" fill="none"/>
<circle cx="67.6" cy="368.0" r="3.5" fill="none"/>
<circle cx="62.5" cy="364.5" r="3.5" fill="none"/>
<circle cx="66.0" cy="366.5" r="3.5" fill="none"/>
<circle cx="57.5" cy="368.5" r="3.5" fill="none"/>
<circle cx="52.0" cy="378.0" r="3.5" fill="none"/>
<circle cx="57.0" cy="373.0" r="3.5" fill="none"/>
<circle cx="62.4" cy="381.4" r="3.5" fill="none"/>
<circle cx="67.6" cy="377.0" r="3.5" fill="none"/>
<circle cx="72.0" cy="379.4" r="3.5" fill="none"/>
<circle cx="57.0" cy="386.6" r="3.5" fill="none"/>
<circle cx="57.0" cy="391.0" r="3.5" fill="none"/>
<circle cx="67.6" cy="390.0" r="3.5" fill="none"/>
<circle cx="67.6" cy="396.6" r="3.5" fill="none"/>
<circle cx="62.0" cy="419.0" r="3.5" fill="none"/>
<line x1="48.00" y1="366.60" x2="75.60" y2="366.60" stroke-width="2"/>
<circle cx="93.0" cy="370.0" r="3.5" fill="#ECEA8A"/>
<circle cx="103.6" cy="373.0" r="3.5" fill="#ECEA8A"/>
<circle cx="114.0" cy="372.6" r="3.5" fill="#ECEA8A"/>
<circle cx="103.6" cy="381.4" r="3.5" fill="#ECEA8A"/>
<circle cx="93.0" cy="386.0" r="3.5" fill="#ECEA8A"/>
<circle cx="103.6" cy="389.0" r="3.5" fill="#ECEA8A"/>
<circle cx="114.0" cy="387.0" r="3.5" fill="#ECEA8A"/>
<circle cx="93.0" cy="393.0" r="3.5" fill="#ECEA8A"/>
<circle cx="103.6" cy="393.4" r="3.5" fill="#ECEA8A"/>
<circle cx="114.0" cy="394.6" r="3.5" fill="#ECEA8A"/>
<circle cx="93.0" cy="396.6" r="3.5" fill="#ECEA8A"/>
<circle cx="103.6" cy="397.4" r="3.5" fill="#ECEA8A"/>
<circle cx="114.0" cy="404.0" r="3.5" fill="#ECEA8A"/>
<circle cx="96.0" cy="406.4" r="3.5" fill="#ECEA8A"/>
<circle cx="103.6" cy="408.6" r="3.5" fill="#ECEA8A"/>
<circle cx="93.0" cy="410.0" r="3.5" fill="#ECEA8A"/>
<circle cx="109.0" cy="411.0" r="3.5" fill="#ECEA8A"/>
<circle cx="98.0" cy="414.0" r="3.5" fill="#ECEA8A"/>
<circle cx="93.0" cy="424.0" r="3.5" fill="#ECEA8A"/>
<circle cx="103.6" cy="424.6" r="3.5" fill="#ECEA8A"/>
<circle cx="114.0" cy="423.6" r="3.5" fill="#ECEA8A"/>
<circle cx="96.0" cy="428.0" r="3.5" fill="#ECEA8A"/>
<circle cx="109.0" cy="427.0" r="3.5" fill="#ECEA8A"/>
<circle cx="114.0" cy="428.6" r="3.5" fill="#ECEA8A"/>
<circle cx="103.6" cy="430.6" r="3.5" fill="#ECEA8A"/>
<circle cx="93.0" cy="434.0" r="3.5" fill="#ECEA8A"/>
<circle cx="98.0" cy="438.0" r="3.5" fill="#ECEA8A"/>
<circle cx="109.0" cy="437.0" r="3.5" fill="#ECEA8A"/>
<line x1="91.00" y1="406.00" x2="116.00" y2="406.00" stroke-width="2"/>
<circle cx="156.0" cy="349.4" r="3.5" fill="#D4D4D4"/>
<circle cx="135.0" cy="353.4" r="3.5" fill="#D4D4D4"/>
<circle cx="145.4" cy="358.6" r="3.5" fill="#D4D4D4"/>
<circle cx="145.4" cy="367.4" r="3.5" fill="#D4D4D4"/>
<circle cx="135.0" cy="373.0" r="3.5" fill="#D4D4D4"/>
<circle cx="140.6" cy="377.0" r="3.5" fill="#D4D4D4"/>
<circle cx="145.4" cy="375.4" r="3.5" fill="#D4D4D4"/>
<circle cx="151.0" cy="379.0" r="3.5" fill="#D4D4D4"/>
<circle cx="140.6" cy="386.6" r="3.5" fill="#D4D4D4"/>
<circle cx="151.0" cy="386.0" r="3.5" fill="#D4D4D4"/>
<circle cx="135.0" cy="391.0" r="3.5" fill="#D4D4D4"/>
<circle cx="145.4" cy="394.0" r="3.5" fill="#D4D4D4"/>
<circle cx="140.6" cy="395.0" r="3.5" fill="#D4D4D4"/>
<circle cx="151.0" cy="396.6" r="3.5" fill="#D4D4D4"/>
<circle cx="156.0" cy="403.0" r="3.5" fill="#D4D4D4"/>
<circle cx="135.0" cy="408.0" r="3.5" fill="#D4D4D4"/>
<circle cx="140.6" cy="410.0" r="3.5" fill="#D4D4D4"/>
<circle cx="145.4" cy="406.0" r="3.5" fill="#D4D4D4"/>
<circle cx="151.0" cy="409.4" r="3.5" fill="#D4D4D4"/>
<circle cx="135.0" cy="417.0" r="3.5" fill="#D4D4D4"/>
<circle cx="145.4" cy="422.0" r="3.5" fill="#D4D4D4"/>
<circle cx="140.6" cy="426.6" r="3.5" fill="#D4D4D4"/>
<circle cx="151.0" cy="426.6" r="3.5" fill="#D4D4D4"/>
<circle cx="135.0" cy="434.6" r="3.5" fill="#D4D4D4"/>
<circle cx="145.4" cy="434.0" r="3.5" fill="#D4D4D4"/>
<circle cx="156.0" cy="434.0" r="3.5" fill="#D4D4D4"/>
<circle cx="140.6" cy="438.6" r="3.5" fill="#D4D4D4"/>
<circle cx="151.0" cy="436.6" r="3.5" fill="#D4D4D4"/>
<line x1="132.00" y1="399.00" x2="159.00" y2="399.00" stroke-width="2"/>
<circle cx="182.0" cy="314.0" r="3.5" fill="#E4282F"/>
<circle cx="192.0" cy="318.6" r="3.5" fill="#E4282F"/>
<circle cx="187.0" cy="332.0" r="3.5" fill="#E4282F"/>
<circle cx="176.6" cy="335.0" r="3.5" fill="#E4282F"/>
<circle cx="182.0" cy="338.0" r="3.5" fill="#E4282F"/>
<circle cx="192.0" cy="338.0" r="3.5" fill="#E4282F"/>
<circle cx="197.0" cy="341.4" r="3.5" fill="#E4282F"/>
<circle cx="176.6" cy="342.0" r="3.5" fill="#E4282F"/>
<circle cx="187.0" cy="346.6" r="3.5" fill="#E4282F"/>
<circle cx="187.0" cy="353.0" r="3.5" fill="#E4282F"/>
<circle cx="176.6" cy="355.0" r="3.5" fill="#E4282F"/>
<circle cx="182.0" cy="360.0" r="3.5" fill="#E4282F"/>
<circle cx="192.0" cy="359.4" r="3.5" fill="#E4282F"/>
<circle cx="197.0" cy="368.6" r="3.5" fill="#E4282F"/>
<circle cx="176.6" cy="370.6" r="3.5" fill="#E4282F"/>
<circle cx="187.0" cy="373.0" r="3.5" fill="#E4282F"/>
<circle cx="182.0" cy="377.0" r="3.5" fill="#E4282F"/>
<circle cx="176.6" cy="380.6" r="3.5" fill="#E4282F"/>
<circle cx="187.0" cy="379.0" r="3.5" fill="#E4282F"/>
<circle cx="192.0" cy="383.0" r="3.5" fill="#E4282F"/>
<circle cx="197.0" cy="379.0" r="3.5" fill="#E4282F"/>
<circle cx="182.0" cy="385.0" r="3.5" fill="#E4282F"/>
<circle cx="176.6" cy="391.0" r="3.5" fill="#E4282F"/>
<circle cx="187.0" cy="393.0" r="3.5" fill="#E4282F"/>
<circle cx="182.0" cy="394.0" r="3.5" fill="#E4282F"/>
<circle cx="192.0" cy="398.6" r="3.5" fill="#E4282F"/>
<circle cx="176.6" cy="402.0" r="3.5" fill="#E4282F"/>
<circle cx="187.0" cy="401.0" r="3.5" fill="#E4282F"/>
<circle cx="192.0" cy="404.0" r="3.5" fill="#E4282F"/>
<circle cx="182.0" cy="410.0" r="3.5" fill="#E4282F"/>
<line x1="173.60" y1="365.00" x2="201.00" y2="365.00" stroke-width="2"/>
<circle cx="240.0" cy="358.0" r="3.5" fill="#4BA95E"/>
<circle cx="219.0" cy="361.0" r="3.5" fill="#4BA95E"/>
<circle cx="229.6" cy="365.0" r="3.5" fill="#4BA95E"/>
<circle cx="229.6" cy="373.4" r="3.5" fill="#4BA95E"/>
<circle cx="219.0" cy="382.0" r="3.5" fill="#4BA95E"/>
<circle cx="229.6" cy="382.6" r="3.5" fill="#4BA95E"/>
<circle cx="240.0" cy="381.4" r="3.5" fill="#4BA95E"/>
<circle cx="219.0" cy="389.0" r="3.5" fill="#4BA95E"/>
<circle cx="219.0" cy="396.0" r="3.5" fill="#4BA95E"/>
<circle cx="229.6" cy="394.0" r="3.5" fill="#4BA95E"/>
<circle cx="229.6" cy="397.4" r="3.5" fill="#4BA95E"/>
<circle cx="240.0" cy="397.4" r="3.5" fill="#4BA95E"/>
<circle cx="219.0" cy="409.0" r="3.5" fill="#4BA95E"/>
<circle cx="229.6" cy="410.0" r="3.5" fill="#4BA95E"/>
<circle cx="240.0" cy="408.0" r="3.5" fill="#4BA95E"/>
<circle cx="219.0" cy="414.6" r="3.5" fill="#4BA95E"/>
<circle cx="240.0" cy="414.6" r="3.5" fill="#4BA95E"/>
<circle cx="219.0" cy="419.0" r="3.5" fill="#4BA95E"/>
<circle cx="224.0" cy="420.0" r="3.5" fill="#4BA95E"/>
<circle cx="229.6" cy="419.4" r="3.5" fill="#4BA95E"/>
<circle cx="240.0" cy="421.0" r="3.5" fill="#4BA95E"/>
<circle cx="235.0" cy="424.0" r="3.5" fill="#4BA95E"/>
<circle cx="219.0" cy="427.4" r="3.5" fill="#4BA95E"/>
<circle cx="229.6" cy="427.4" r="3.5" fill="#4BA95E"/>
<circle cx="235.0" cy="433.0" r="3.5" fill="#4BA95E"/>
<circle cx="224.4" cy="437.0" r="3.5" fill="#4BA95E"/>
<line x1="215.60" y1="404.60" x2="243.00" y2="404.60" stroke-width="2"/>
<circle cx="314.7" cy="334.7" r="3.5" fill="none"/>
<circle cx="309.6" cy="346.3" r="3.5" fill="none"/>
<circle cx="319.5" cy="345.7" r="3.5" fill="none"/>
<circle cx="305.8" cy="350.9" r="3.5" fill="none"/>
<circle cx="323.0" cy="350.9" r="3.5" fill="none"/>
<circle cx="312.0" cy="355.0" r="3.5" fill="none"/>
<circle cx="317.4" cy="353.3" r="3.5" fill="none"/>
<circle cx="324.5" cy="358.1" r="3.5" fill="none"/>
<circle cx="305.0" cy="361.6" r="3.5" fill="none"/>
<circle cx="314.7" cy="362.2" r="3.5" fill="none"/>
<circle cx="302.9" cy="369.1" r="3.5" fill="none"/>
<circle cx="309.1" cy="369.5" r="3.5" fill="none"/>
<circle cx="320.3" cy="369.9" r="3.5" fill="none"/>
<circle cx="326.1" cy="369.9" r="3.5" fill="none"/>
<circle cx="307.5" cy="377.8" r="3.5" fill="none"/>
<circle cx="317.8" cy="378.8" r="3.5" fill="none"/>
<circle cx="312.7" cy="381.5" r="3.5" fill="none"/>
<circle cx="303.3" cy="384.0" r="3.5" fill="none"/>
<circle cx="326.1" cy="384.4" r="3.5" fill="none"/>
<circle cx="319.9" cy="379.4" r="3.5" fill="none"/>
<circle cx="308.5" cy="388.1" r="3.5" fill="none"/>
<circle cx="319.9" cy="388.1" r="3.5" fill="none"/>
<circle cx="314.7" cy="392.2" r="3.5" fill="none"/>
<circle cx="305.0" cy="396.8" r="3.5" fill="none"/>
<circle cx="324.5" cy="396.0" r="3.5" fill="none"/>
<circle cx="314.7" cy="401.6" r="3.5" fill="none"/>
<circle cx="314.7" cy="418.7" r="3.5" fill="none"/>
<line x1="301.30" y1="374.00" x2="327.80" y2="374.00" stroke-width="2"/>
<circle cx="351.3" cy="368.5" r="3.5" fill="#ECEA8A"/>
<circle cx="361.7" cy="366.0" r="3.5" fill="#ECEA8A"/>
<circle cx="351.3" cy="374.2" r="3.5" fill="#ECEA8A"/>
<circle cx="361.7" cy="374.7" r="3.5" fill="#ECEA8A"/>
<circle cx="361.7" cy="382.9" r="3.5" fill="#ECEA8A"/>
<circle cx="351.3" cy="386.7" r="3.5" fill="#ECEA8A"/>
<circle cx="346.8" cy="393.3" r="3.5" fill="#ECEA8A"/>
<circle cx="351.3" cy="392.2" r="3.5" fill="#ECEA8A"/>
<circle cx="361.7" cy="392.2" r="3.5" fill="#ECEA8A"/>
<circle cx="365.4" cy="395.4" r="3.5" fill="#ECEA8A"/>
<circle cx="353.0" cy="400.9" r="3.5" fill="#ECEA8A"/>
<circle cx="359.2" cy="401.6" r="3.5" fill="#ECEA8A"/>
<circle cx="347.8" cy="414.0" r="3.5" fill="#ECEA8A"/>
<circle cx="354.0" cy="417.1" r="3.5" fill="#ECEA8A"/>
<circle cx="361.7" cy="410.9" r="3.5" fill="#ECEA8A"/>
<circle cx="364.4" cy="414.0" r="3.5" fill="#ECEA8A"/>
<circle cx="359.2" cy="417.1" r="3.5" fill="#ECEA8A"/>
<circle cx="347.8" cy="424.3" r="3.5" fill="#ECEA8A"/>
<circle cx="353.0" cy="424.3" r="3.5" fill="#ECEA8A"/>
<circle cx="363.3" cy="424.3" r="3.5" fill="#ECEA8A"/>
<circle cx="359.2" cy="426.4" r="3.5" fill="#ECEA8A"/>
<circle cx="365.4" cy="429.5" r="3.5" fill="#ECEA8A"/>
<circle cx="350.9" cy="428.5" r="3.5" fill="#ECEA8A"/>
<circle cx="347.8" cy="432.6" r="3.5" fill="#ECEA8A"/>
<circle cx="354.0" cy="437.4" r="3.5" fill="#ECEA8A"/>
<circle cx="359.2" cy="437.4" r="3.5" fill="#ECEA8A"/>
<circle cx="357.1" cy="431.6" r="3.5" fill="#ECEA8A"/>
<line x1="342.70" y1="409.80" x2="370.60" y2="409.80" stroke-width="2"/>
<circle cx="408.1" cy="355.0" r="3.5" fill="#D4D4D4"/>
<circle cx="388.4" cy="358.1" r="3.5" fill="#D4D4D4"/>
<circle cx="398.2" cy="363.3" r="3.5" fill="#D4D4D4"/>
<circle cx="398.2" cy="377.4" r="3.5" fill="#D4D4D4"/>
<circle cx="385.8" cy="384.0" r="3.5" fill="#D4D4D4"/>
<circle cx="394.0" cy="387.1" r="3.5" fill="#D4D4D4"/>
<circle cx="402.3" cy="389.1" r="3.5" fill="#D4D4D4"/>
<circle cx="410.6" cy="385.6" r="3.5" fill="#D4D4D4"/>
<circle cx="385.8" cy="398.0" r="3.5" fill="#D4D4D4"/>
<circle cx="394.0" cy="397.4" r="3.5" fill="#D4D4D4"/>
<circle cx="403.6" cy="396.0" r="3.5" fill="#D4D4D4"/>
<circle cx="394.0" cy="401.6" r="3.5" fill="#D4D4D4"/>
<circle cx="402.3" cy="403.0" r="3.5" fill="#D4D4D4"/>
<circle cx="410.6" cy="400.9" r="3.5" fill="#D4D4D4"/>
<circle cx="390.5" cy="412.9" r="3.5" fill="#D4D4D4"/>
<circle cx="394.0" cy="409.8" r="3.5" fill="#D4D4D4"/>
<circle cx="400.9" cy="412.9" r="3.5" fill="#D4D4D4"/>
<circle cx="406.4" cy="410.9" r="3.5" fill="#D4D4D4"/>
<circle cx="397.8" cy="407.8" r="3.5" fill="#D4D4D4"/>
<circle cx="386.4" cy="419.1" r="3.5" fill="#D4D4D4"/>
<circle cx="394.0" cy="423.7" r="3.5" fill="#D4D4D4"/>
<circle cx="402.3" cy="424.3" r="3.5" fill="#D4D4D4"/>
<circle cx="410.6" cy="420.2" r="3.5" fill="#D4D4D4"/>
<circle cx="389.9" cy="432.6" r="3.5" fill="#D4D4D4"/>
<circle cx="395.3" cy="436.7" r="3.5" fill="#D4D4D4"/>
<circle cx="401.5" cy="433.2" r="3.5" fill="#D4D4D4"/>
<circle cx="406.4" cy="433.2" r="3.5" fill="#D4D4D4"/>
<circle cx="398.2" cy="431.6" r="3.5" fill="#D4D4D4"/>
<line x1="384.30" y1="404.70" x2="412.70" y2="404.70" stroke-width="2"/>
<circle cx="435.0" cy="332.2" r="3.5" fill="#E4282F"/>
<circle cx="445.3" cy="333.9" r="3.5" fill="#E4282F"/>
<circle cx="429.8" cy="347.1" r="3.5" fill="#E4282F"/>
<circle cx="440.2" cy="350.5" r="3.5" fill="#E4282F"/>
<circle cx="449.9" cy="346.7" r="3.5" fill="#E4282F"/>
<circle cx="449.9" cy="350.5" r="3.5" fill="#E4282F"/>
<circle cx="429.8" cy="356.0" r="3.5" fill="#E4282F"/>
<circle cx="440.2" cy="359.6" r="3.5" fill="#E4282F"/>
<circle cx="428.4" cy="364.3" r="3.5" fill="#E4282F"/>
<circle cx="434.6" cy="367.8" r="3.5" fill="#E4282F"/>
<circle cx="445.3" cy="368.5" r="3.5" fill="#E4282F"/>
<circle cx="451.6" cy="365.4" r="3.5" fill="#E4282F"/>
<circle cx="440.2" cy="372.6" r="3.5" fill="#E4282F"/>
<circle cx="427.8" cy="377.4" r="3.5" fill="#E4282F"/>
<circle cx="436.0" cy="381.9" r="3.5" fill="#E4282F"/>
<circle cx="444.3" cy="384.4" r="3.5" fill="#E4282F"/>
<circle cx="452.6" cy="381.5" r="3.5" fill="#E4282F"/>
<circle cx="427.8" cy="387.1" r="3.5" fill="#E4282F"/>
<circle cx="452.6" cy="387.7" r="3.5" fill="#E4282F"/>
<circle cx="444.3" cy="390.6" r="3.5" fill="#E4282F"/>
<circle cx="436.0" cy="393.3" r="3.5" fill="#E4282F"/>
<circle cx="452.6" cy="394.3" r="3.5" fill="#E4282F"/>
<circle cx="427.8" cy="398.0" r="3.5" fill="#E4282F"/>
<circle cx="435.0" cy="400.5" r="3.5" fill="#E4282F"/>
<circle cx="440.2" cy="402.2" r="3.5" fill="#E4282F"/>
<circle cx="445.3" cy="399.5" r="3.5" fill="#E4282F"/>
<circle cx="452.6" cy="402.6" r="3.5" fill="#E4282F"/>
<circle cx="427.8" cy="404.7" r="3.5" fill="#E4282F"/>
<circle cx="444.3" cy="405.7" r="3.5" fill="#E4282F"/>
<circle cx="436.0" cy="411.9" r="3.5" fill="#E4282F"/>
<line x1="431.90" y1="377.80" x2="453.60" y2="377.80" stroke-width="2"/>
<circle cx="477.7" cy="362.2" r="3.5" fill="#4BA95E"/>
<circle cx="487.6" cy="362.9" r="3.5" fill="#4BA95E"/>
<circle cx="487.6" cy="367.8" r="3.5" fill="#4BA95E"/>
<circle cx="477.7" cy="377.4" r="3.5" fill="#4BA95E"/>
<circle cx="472.7" cy="386.0" r="3.5" fill="#4BA95E"/>
<circle cx="482.4" cy="386.0" r="3.5" fill="#4BA95E"/>
<circle cx="492.8" cy="385.0" r="3.5" fill="#4BA95E"/>
<circle cx="471.0" cy="393.3" r="3.5" fill="#4BA95E"/>
<circle cx="476.8" cy="397.4" r="3.5" fill="#4BA95E"/>
<circle cx="482.4" cy="398.9" r="3.5" fill="#4BA95E"/>
<circle cx="488.6" cy="398.9" r="3.5" fill="#4BA95E"/>
<circle cx="494.8" cy="396.0" r="3.5" fill="#4BA95E"/>
<circle cx="472.7" cy="408.4" r="3.5" fill="#4BA95E"/>
<circle cx="482.4" cy="409.2" r="3.5" fill="#4BA95E"/>
<circle cx="492.8" cy="407.1" r="3.5" fill="#4BA95E"/>
<circle cx="471.0" cy="414.0" r="3.5" fill="#4BA95E"/>
<circle cx="494.8" cy="415.0" r="3.5" fill="#4BA95E"/>
<circle cx="476.2" cy="418.1" r="3.5" fill="#4BA95E"/>
<circle cx="482.4" cy="420.2" r="3.5" fill="#4BA95E"/>
<circle cx="490.7" cy="418.7" r="3.5" fill="#4BA95E"/>
<circle cx="470.6" cy="422.9" r="3.5" fill="#4BA95E"/>
<circle cx="478.3" cy="426.4" r="3.5" fill="#4BA95E"/>
<circle cx="486.6" cy="428.5" r="3.5" fill="#4BA95E"/>
<circle cx="494.8" cy="425.8" r="3.5" fill="#4BA95E"/>
<circle cx="470.6" cy="432.0" r="3.5" fill="#4BA95E"/>
<circle cx="494.8" cy="431.6" r="3.5" fill="#4BA95E"/>
<circle cx="486.6" cy="437.4" r="3.5" fill="#4BA95E"/>
<circle cx="478.3" cy="440.9" r="3.5" fill="#4BA95E"/>
<line x1="469.00" y1="406.70" x2="491.70" y2="406.70" stroke-width="2"/>
<path d="M59.50,582.00 L59.50,580.00 L101.70,580.00 L101.70,582.00" fill="none" stroke-width="1.15"/>
<circle cx="78.40" cy="576.40" r="1.2" fill="#000" stroke="none"/><circle cx="83.20" cy="576.40" r="1.2" fill="#000" stroke="none"/>
<path d="M100.00,600.80 L100.00,598.80 L142.50,598.80 L142.50,600.80" fill="none" stroke-width="1.15"/>
<text x="121.75" y="595.60" font-size="5.9" text-anchor="middle" font-weight="bold" style="stroke-width:0.15px">n.s.</text>
<path d="M137.00,564.80 L137.00,562.80 L179.40,562.80 L179.40,564.80" fill="none" stroke-width="1.15"/>
<circle cx="156.00" cy="559.20" r="1.2" fill="#000" stroke="none"/><circle cx="160.80" cy="559.20" r="1.2" fill="#000" stroke="none"/>
<path d="M193.80,571.00 L193.80,569.00 L236.00,569.00 L236.00,571.00" fill="none" stroke-width="1.15"/>
<circle cx="212.70" cy="565.40" r="1.2" fill="#000" stroke="none"/><circle cx="217.50" cy="565.40" r="1.2" fill="#000" stroke="none"/>
<path d="M145.50,553.80 L145.50,551.80 L229.80,551.80 L229.80,553.80" fill="none" stroke-width="1.15"/>
<text x="188.15" y="548.60" font-size="5.9" text-anchor="middle" font-weight="bold" style="stroke-width:0.15px">n.s.</text>
<path d="M312.70,580.50 L312.70,578.50 L355.50,578.50 L355.50,580.50" fill="none" stroke-width="1.15"/>
<circle cx="331.90" cy="574.90" r="1.2" fill="#000" stroke="none"/><circle cx="336.70" cy="574.90" r="1.2" fill="#000" stroke="none"/>
<path d="M353.40,600.40 L353.40,598.40 L395.70,598.40 L395.70,600.40" fill="none" stroke-width="1.15"/>
<text x="375.05" y="595.20" font-size="5.9" text-anchor="middle" font-weight="bold" style="stroke-width:0.15px">n.s.</text>
<path d="M390.50,565.20 L390.50,563.20 L432.50,563.20 L432.50,565.20" fill="none" stroke-width="1.15"/>
<circle cx="409.30" cy="559.60" r="1.2" fill="#000" stroke="none"/><circle cx="414.10" cy="559.60" r="1.2" fill="#000" stroke="none"/>
<path d="M448.70,570.50 L448.70,568.50 L490.70,568.50 L490.70,570.50" fill="none" stroke-width="1.15"/>
<circle cx="467.50" cy="564.90" r="1.2" fill="#000" stroke="none"/><circle cx="472.30" cy="564.90" r="1.2" fill="#000" stroke="none"/>
<path d="M399.40,552.80 L399.40,550.80 L483.50,550.80 L483.50,552.80" fill="none" stroke-width="1.15"/>
<text x="441.95" y="547.60" font-size="5.9" text-anchor="middle" font-weight="bold" style="stroke-width:0.15px">n.s.</text>
<circle cx="41.4" cy="728.6" r="4.95" fill="#ffffff" style="stroke-width:1.2"/>
<text x="49.40" y="731.90" font-size="8.25" text-anchor="start" font-weight="bold" >Healthy T cells (GFP vector)</text>
<circle cx="41.4" cy="743.4" r="4.95" fill="#D4D4D4" style="stroke-width:1.2"/>
<text x="49.80" y="746.70" font-size="8.25" text-anchor="start" font-weight="bold" >T cells from CLL (GFP vector)</text>
<circle cx="179.1" cy="728.5" r="4.95" fill="#000000" style="stroke-width:1.2"/>
<text x="186.90" y="731.80" font-size="8.25" text-anchor="start" font-weight="bold" >Healthy T cells + Cdc42 (V12-GFP)</text>
<circle cx="179.2" cy="743.1" r="4.95" fill="#E4282F" style="stroke-width:1.2"/>
<text x="186.10" y="746.40" font-size="8.25" text-anchor="start" font-weight="bold" >T cells from CLL + Lenalid. + GFP vector</text>
<circle cx="331.0" cy="728.4" r="4.95" fill="#43A8D8" style="stroke-width:1.2"/>
<text x="338.10" y="731.70" font-size="8.25" text-anchor="start" font-weight="bold" >T cells from CLL + Lenalid. + Cdc42 (V12-GFP)</text>
<circle cx="59.7" cy="618.3" r="3.5" fill="none"/>
<circle cx="65.1" cy="620.1" r="3.5" fill="none"/>
<circle cx="48.7" cy="631.9" r="3.5" fill="none"/>
<circle cx="54.4" cy="629.2" r="3.5" fill="none"/>
<circle cx="59.7" cy="632.4" r="3.5" fill="none"/>
<circle cx="54.4" cy="637.9" r="3.5" fill="none"/>
<circle cx="65.1" cy="641.5" r="3.5" fill="none"/>
<circle cx="70.4" cy="646.8" r="3.5" fill="none"/>
<circle cx="50.1" cy="645.7" r="3.5" fill="none"/>
<circle cx="48.7" cy="649.5" r="3.5" fill="none"/>
<circle cx="59.7" cy="649.5" r="3.5" fill="none"/>
<circle cx="48.7" cy="652.1" r="3.5" fill="none"/>
<circle cx="70.4" cy="653.7" r="3.5" fill="none"/>
<circle cx="54.4" cy="654.8" r="3.5" fill="none"/>
<circle cx="59.7" cy="654.8" r="3.5" fill="none"/>
<circle cx="51.7" cy="659.1" r="3.5" fill="none"/>
<circle cx="65.1" cy="659.1" r="3.5" fill="none"/>
<circle cx="48.7" cy="663.9" r="3.5" fill="none"/>
<circle cx="59.7" cy="663.3" r="3.5" fill="none"/>
<circle cx="70.4" cy="662.3" r="3.5" fill="none"/>
<circle cx="54.4" cy="665.5" r="3.5" fill="none"/>
<circle cx="65.1" cy="667.1" r="3.5" fill="none"/>
<circle cx="54.4" cy="668.7" r="3.5" fill="none"/>
<circle cx="57.1" cy="670.3" r="3.5" fill="none"/>
<circle cx="70.4" cy="675.1" r="3.5" fill="none"/>
<circle cx="48.7" cy="678.3" r="3.5" fill="none"/>
<circle cx="51.7" cy="677.2" r="3.5" fill="none"/>
<circle cx="54.4" cy="679.3" r="3.5" fill="none"/>
<circle cx="59.7" cy="677.7" r="3.5" fill="none"/>
<circle cx="65.1" cy="678.8" r="3.5" fill="none"/>
<line x1="45.90" y1="655.70" x2="73.00" y2="655.70" stroke-width="2"/>
<circle cx="93.5" cy="668.9" r="3.5" fill="#000000"/>
<circle cx="112.0" cy="670.0" r="3.5" fill="#000000"/>
<circle cx="90.5" cy="672.3" r="3.5" fill="#000000"/>
<circle cx="102.0" cy="672.3" r="3.5" fill="#000000"/>
<circle cx="105.8" cy="675.4" r="3.5" fill="#000000"/>
<circle cx="112.0" cy="673.0" r="3.5" fill="#000000"/>
<circle cx="93.5" cy="676.2" r="3.5" fill="#000000"/>
<circle cx="97.4" cy="678.5" r="3.5" fill="#000000"/>
<circle cx="105.0" cy="678.5" r="3.5" fill="#000000"/>
<circle cx="90.5" cy="684.0" r="3.5" fill="#000000"/>
<circle cx="93.5" cy="685.4" r="3.5" fill="#000000"/>
<circle cx="97.4" cy="686.0" r="3.5" fill="#000000"/>
<circle cx="102.0" cy="684.0" r="3.5" fill="#000000"/>
<circle cx="105.8" cy="685.4" r="3.5" fill="#000000"/>
<circle cx="109.7" cy="685.4" r="3.5" fill="#000000"/>
<circle cx="113.5" cy="684.6" r="3.5" fill="#000000"/>
<circle cx="93.5" cy="682.0" r="3.5" fill="#000000"/>
<circle cx="109.7" cy="682.0" r="3.5" fill="#000000"/>
<circle cx="100.5" cy="686.5" r="3.5" fill="#000000"/>
<line x1="87.50" y1="681.00" x2="116.50" y2="681.00" stroke-width="2"/>
<line x1="90" y1="681" x2="114" y2="681" style="stroke:#fff;stroke-width:0.7"/>
<circle cx="138.2" cy="674.6" r="3.5" fill="#D4D4D4"/>
<circle cx="148.5" cy="674.6" r="3.5" fill="#D4D4D4"/>
<circle cx="136.6" cy="678.5" r="3.5" fill="#D4D4D4"/>
<circle cx="148.2" cy="677.7" r="3.5" fill="#D4D4D4"/>
<circle cx="138.9" cy="680.8" r="3.5" fill="#D4D4D4"/>
<circle cx="133.5" cy="684.6" r="3.5" fill="#D4D4D4"/>
<circle cx="138.2" cy="684.6" r="3.5" fill="#D4D4D4"/>
<circle cx="143.5" cy="685.4" r="3.5" fill="#D4D4D4"/>
<circle cx="148.5" cy="686.2" r="3.5" fill="#D4D4D4"/>
<circle cx="153.5" cy="684.6" r="3.5" fill="#D4D4D4"/>
<circle cx="132.8" cy="686.2" r="3.5" fill="#D4D4D4"/>
<circle cx="155.0" cy="682.3" r="3.5" fill="#D4D4D4"/>
<circle cx="145.8" cy="683.1" r="3.5" fill="#D4D4D4"/>
<line x1="129.70" y1="680.80" x2="158.20" y2="680.80" stroke-width="2"/>
<circle cx="180.3" cy="571.1" r="3.5" fill="#E4282F"/>
<circle cx="191.0" cy="581.5" r="3.5" fill="#E4282F"/>
<circle cx="175.0" cy="595.3" r="3.5" fill="#E4282F"/>
<circle cx="185.8" cy="597.1" r="3.5" fill="#E4282F"/>
<circle cx="196.2" cy="596.2" r="3.5" fill="#E4282F"/>
<circle cx="185.8" cy="609.7" r="3.5" fill="#E4282F"/>
<circle cx="178.0" cy="613.9" r="3.5" fill="#E4282F"/>
<circle cx="175.0" cy="615.6" r="3.5" fill="#E4282F"/>
<circle cx="196.2" cy="615.3" r="3.5" fill="#E4282F"/>
<circle cx="185.8" cy="618.7" r="3.5" fill="#E4282F"/>
<circle cx="175.0" cy="623.1" r="3.5" fill="#E4282F"/>
<circle cx="185.8" cy="624.8" r="3.5" fill="#E4282F"/>
<circle cx="196.2" cy="623.9" r="3.5" fill="#E4282F"/>
<circle cx="175.0" cy="635.2" r="3.5" fill="#E4282F"/>
<circle cx="185.8" cy="636.4" r="3.5" fill="#E4282F"/>
<circle cx="196.2" cy="635.2" r="3.5" fill="#E4282F"/>
<circle cx="175.0" cy="640.9" r="3.5" fill="#E4282F"/>
<circle cx="196.2" cy="643.9" r="3.5" fill="#E4282F"/>
<circle cx="185.8" cy="651.7" r="3.5" fill="#E4282F"/>
<circle cx="175.0" cy="665.2" r="3.5" fill="#E4282F"/>
<circle cx="196.2" cy="664.7" r="3.5" fill="#E4282F"/>
<circle cx="185.8" cy="669.0" r="3.5" fill="#E4282F"/>
<circle cx="183.2" cy="673.8" r="3.5" fill="#E4282F"/>
<circle cx="179.7" cy="678.5" r="3.5" fill="#E4282F"/>
<circle cx="196.2" cy="678.5" r="3.5" fill="#E4282F"/>
<circle cx="174.5" cy="682.5" r="3.5" fill="#E4282F"/>
<circle cx="179.7" cy="684.2" r="3.5" fill="#E4282F"/>
<circle cx="185.5" cy="681.1" r="3.5" fill="#E4282F"/>
<circle cx="191.0" cy="682.9" r="3.5" fill="#E4282F"/>
<line x1="171.90" y1="639.20" x2="198.80" y2="639.20" stroke-width="2"/>
<circle cx="227.9" cy="638.7" r="3.5" fill="#43A8D8"/>
<circle cx="227.9" cy="662.2" r="3.5" fill="#43A8D8"/>
<circle cx="221.8" cy="665.6" r="3.5" fill="#43A8D8"/>
<circle cx="235.3" cy="668.9" r="3.5" fill="#43A8D8"/>
<circle cx="217.5" cy="672.8" r="3.5" fill="#43A8D8"/>
<circle cx="220.9" cy="671.3" r="3.5" fill="#43A8D8"/>
<circle cx="227.6" cy="673.8" r="3.5" fill="#43A8D8"/>
<circle cx="232.9" cy="674.2" r="3.5" fill="#43A8D8"/>
<circle cx="238.2" cy="671.8" r="3.5" fill="#43A8D8"/>
<circle cx="223.8" cy="679.0" r="3.5" fill="#43A8D8"/>
<circle cx="235.3" cy="679.5" r="3.5" fill="#43A8D8"/>
<circle cx="238.7" cy="682.4" r="3.5" fill="#43A8D8"/>
<circle cx="216.5" cy="684.3" r="3.5" fill="#43A8D8"/>
<circle cx="222.3" cy="685.8" r="3.5" fill="#43A8D8"/>
<circle cx="228.1" cy="684.8" r="3.5" fill="#43A8D8"/>
<circle cx="232.9" cy="685.3" r="3.5" fill="#43A8D8"/>
<line x1="214.00" y1="675.20" x2="242.00" y2="675.20" stroke-width="2"/>
<circle cx="313.7" cy="589.5" r="3.5" fill="none"/>
<circle cx="318.9" cy="603.3" r="3.5" fill="none"/>
<circle cx="309.1" cy="611.6" r="3.5" fill="none"/>
<circle cx="324.5" cy="631.5" r="3.5" fill="none"/>
<circle cx="303.3" cy="635.2" r="3.5" fill="none"/>
<circle cx="313.7" cy="636.0" r="3.5" fill="none"/>
<circle cx="318.9" cy="643.3" r="3.5" fill="none"/>
<circle cx="308.6" cy="649.5" r="3.5" fill="none"/>
<circle cx="308.6" cy="650.2" r="3.5" fill="none"/>
<circle cx="318.9" cy="650.1" r="3.5" fill="none"/>
<circle cx="313.7" cy="664.0" r="3.5" fill="none"/>
<circle cx="313.0" cy="666.0" r="3.5" fill="none"/>
<circle cx="316.0" cy="668.0" r="3.5" fill="none"/>
<circle cx="311.0" cy="670.0" r="3.5" fill="none"/>
<circle cx="315.0" cy="672.0" r="3.5" fill="none"/>
<circle cx="318.0" cy="674.0" r="3.5" fill="none"/>
<circle cx="312.0" cy="675.0" r="3.5" fill="none"/>
<circle cx="314.0" cy="678.0" r="3.5" fill="none"/>
<circle cx="317.0" cy="679.0" r="3.5" fill="none"/>
<circle cx="319.0" cy="670.0" r="3.5" fill="none"/>
<circle cx="308.5" cy="668.1" r="3.5" fill="none"/>
<circle cx="317.8" cy="668.1" r="3.5" fill="none"/>
<circle cx="311.6" cy="672.2" r="3.5" fill="none"/>
<circle cx="319.9" cy="672.2" r="3.5" fill="none"/>
<circle cx="308.5" cy="675.4" r="3.5" fill="none"/>
<circle cx="314.7" cy="676.4" r="3.5" fill="none"/>
<circle cx="318.9" cy="679.5" r="3.5" fill="none"/>
<circle cx="303.3" cy="682.6" r="3.5" fill="none"/>
<circle cx="313.7" cy="685.3" r="3.5" fill="none"/>
<circle cx="324.0" cy="683.2" r="3.5" fill="none"/>
<circle cx="308.5" cy="680.5" r="3.5" fill="none"/>
<line x1="300.20" y1="660.50" x2="327.80" y2="660.50" stroke-width="2"/>
<circle cx="355.9" cy="655.0" r="3.5" fill="#000000"/>
<circle cx="351.0" cy="669.5" r="3.5" fill="#000000"/>
<circle cx="345.0" cy="678.1" r="3.5" fill="#000000"/>
<circle cx="345.0" cy="683.5" r="3.5" fill="#000000"/>
<circle cx="345.0" cy="688.1" r="3.5" fill="#000000"/>
<circle cx="350.4" cy="685.8" r="3.5" fill="#000000"/>
<circle cx="355.4" cy="678.8" r="3.5" fill="#000000"/>
<circle cx="355.4" cy="685.0" r="3.5" fill="#000000"/>
<circle cx="355.4" cy="688.8" r="3.5" fill="#000000"/>
<circle cx="361.2" cy="675.8" r="3.5" fill="#000000"/>
<circle cx="366.5" cy="678.1" r="3.5" fill="#000000"/>
<circle cx="366.5" cy="683.5" r="3.5" fill="#000000"/>
<circle cx="366.5" cy="688.1" r="3.5" fill="#000000"/>
<circle cx="361.2" cy="686.5" r="3.5" fill="#000000"/>
<circle cx="358.8" cy="679.6" r="3.5" fill="#000000"/>
<circle cx="363.5" cy="679.6" r="3.5" fill="#000000"/>
<circle cx="361.3" cy="681.6" r="0.9" style="fill:#fff;stroke:none"/>
<circle cx="397.8" cy="645.4" r="3.5" fill="#D4D4D4"/>
<circle cx="387.0" cy="660.9" r="3.5" fill="#D4D4D4"/>
<circle cx="397.8" cy="658.4" r="3.5" fill="#D4D4D4"/>
<circle cx="392.6" cy="664.6" r="3.5" fill="#D4D4D4"/>
<circle cx="402.9" cy="664.0" r="3.5" fill="#D4D4D4"/>
<circle cx="387.0" cy="669.1" r="3.5" fill="#D4D4D4"/>
<circle cx="397.8" cy="669.1" r="3.5" fill="#D4D4D4"/>
<circle cx="408.1" cy="671.6" r="3.5" fill="#D4D4D4"/>
<circle cx="387.0" cy="673.7" r="3.5" fill="#D4D4D4"/>
<circle cx="397.8" cy="674.9" r="3.5" fill="#D4D4D4"/>
<circle cx="392.6" cy="679.5" r="3.5" fill="#D4D4D4"/>
<circle cx="402.9" cy="680.5" r="3.5" fill="#D4D4D4"/>
<circle cx="387.0" cy="685.7" r="3.5" fill="#D4D4D4"/>
<circle cx="392.6" cy="687.8" r="3.5" fill="#D4D4D4"/>
<circle cx="397.8" cy="685.7" r="3.5" fill="#D4D4D4"/>
<circle cx="402.9" cy="686.7" r="3.5" fill="#D4D4D4"/>
<circle cx="408.1" cy="684.0" r="3.5" fill="#D4D4D4"/>
<circle cx="389.9" cy="684.7" r="3.5" fill="#D4D4D4"/>
<line x1="384.30" y1="676.40" x2="411.80" y2="676.40" stroke-width="2"/>
<circle cx="439.6" cy="564.0" r="3.5" fill="#E4282F"/>
<circle cx="428.8" cy="569.8" r="3.5" fill="#E4282F"/>
<circle cx="449.9" cy="577.1" r="3.5" fill="#E4282F"/>
<circle cx="439.6" cy="578.5" r="3.5" fill="#E4282F"/>
<circle cx="439.6" cy="590.9" r="3.5" fill="#E4282F"/>
<circle cx="444.9" cy="592.2" r="3.5" fill="#E4282F"/>
<circle cx="434.6" cy="601.3" r="3.5" fill="#E4282F"/>
<circle cx="439.6" cy="618.5" r="3.5" fill="#E4282F"/>
<circle cx="429.2" cy="624.0" r="3.5" fill="#E4282F"/>
<circle cx="435.0" cy="623.6" r="3.5" fill="#E4282F"/>
<circle cx="444.9" cy="624.0" r="3.5" fill="#E4282F"/>
<circle cx="449.9" cy="626.1" r="3.5" fill="#E4282F"/>
<circle cx="434.6" cy="629.4" r="3.5" fill="#E4282F"/>
<circle cx="439.6" cy="628.8" r="3.5" fill="#E4282F"/>
<circle cx="445.3" cy="632.9" r="3.5" fill="#E4282F"/>
<circle cx="434.6" cy="634.4" r="3.5" fill="#E4282F"/>
<circle cx="445.3" cy="639.8" r="3.5" fill="#E4282F"/>
<circle cx="445.3" cy="650.5" r="3.5" fill="#E4282F"/>
<circle cx="434.6" cy="654.7" r="3.5" fill="#E4282F"/>
<circle cx="434.6" cy="659.8" r="3.5" fill="#E4282F"/>
<circle cx="445.3" cy="658.8" r="3.5" fill="#E4282F"/>
<circle cx="434.6" cy="668.1" r="3.5" fill="#E4282F"/>
<circle cx="445.3" cy="674.9" r="3.5" fill="#E4282F"/>
<circle cx="437.1" cy="679.9" r="3.5" fill="#E4282F"/>
<circle cx="429.2" cy="684.0" r="3.5" fill="#E4282F"/>
<circle cx="434.6" cy="683.2" r="3.5" fill="#E4282F"/>
<circle cx="439.6" cy="686.7" r="3.5" fill="#E4282F"/>
<circle cx="445.3" cy="683.2" r="3.5" fill="#E4282F"/>
<circle cx="449.9" cy="686.7" r="3.5" fill="#E4282F"/>
<line x1="425.70" y1="636.00" x2="453.60" y2="636.00" stroke-width="2"/>
<circle cx="471.0" cy="649.5" r="3.5" fill="#43A8D8"/>
<circle cx="481.4" cy="649.5" r="3.5" fill="#43A8D8"/>
<circle cx="492.1" cy="648.9" r="3.5" fill="#43A8D8"/>
<circle cx="492.1" cy="655.7" r="3.5" fill="#43A8D8"/>
<circle cx="471.0" cy="659.8" r="3.5" fill="#43A8D8"/>
<circle cx="481.4" cy="659.8" r="3.5" fill="#43A8D8"/>
<circle cx="475.2" cy="664.0" r="3.5" fill="#43A8D8"/>
<circle cx="487.6" cy="664.0" r="3.5" fill="#43A8D8"/>
<circle cx="489.7" cy="666.7" r="3.5" fill="#43A8D8"/>
<circle cx="471.0" cy="668.7" r="3.5" fill="#43A8D8"/>
<circle cx="476.2" cy="667.5" r="3.5" fill="#43A8D8"/>
<circle cx="492.8" cy="668.7" r="3.5" fill="#43A8D8"/>
<circle cx="481.4" cy="670.2" r="3.5" fill="#43A8D8"/>
<circle cx="471.0" cy="674.3" r="3.5" fill="#43A8D8"/>
<circle cx="481.4" cy="676.4" r="3.5" fill="#43A8D8"/>
<circle cx="492.8" cy="674.3" r="3.5" fill="#43A8D8"/>
<circle cx="476.2" cy="672.2" r="3.5" fill="#43A8D8"/>
<circle cx="487.6" cy="673.3" r="3.5" fill="#43A8D8"/>
<circle cx="489.7" cy="677.4" r="3.5" fill="#43A8D8"/>
<circle cx="471.0" cy="680.5" r="3.5" fill="#43A8D8"/>
<circle cx="478.3" cy="680.5" r="3.5" fill="#43A8D8"/>
<circle cx="492.8" cy="682.6" r="3.5" fill="#43A8D8"/>
<circle cx="471.0" cy="686.7" r="3.5" fill="#43A8D8"/>
<circle cx="477.2" cy="687.8" r="3.5" fill="#43A8D8"/>
<circle cx="482.4" cy="685.7" r="3.5" fill="#43A8D8"/>
<circle cx="487.6" cy="687.4" r="3.5" fill="#43A8D8"/>
<line x1="468.00" y1="672.00" x2="496.00" y2="672.00" stroke-width="2"/>
</svg></body></html>
